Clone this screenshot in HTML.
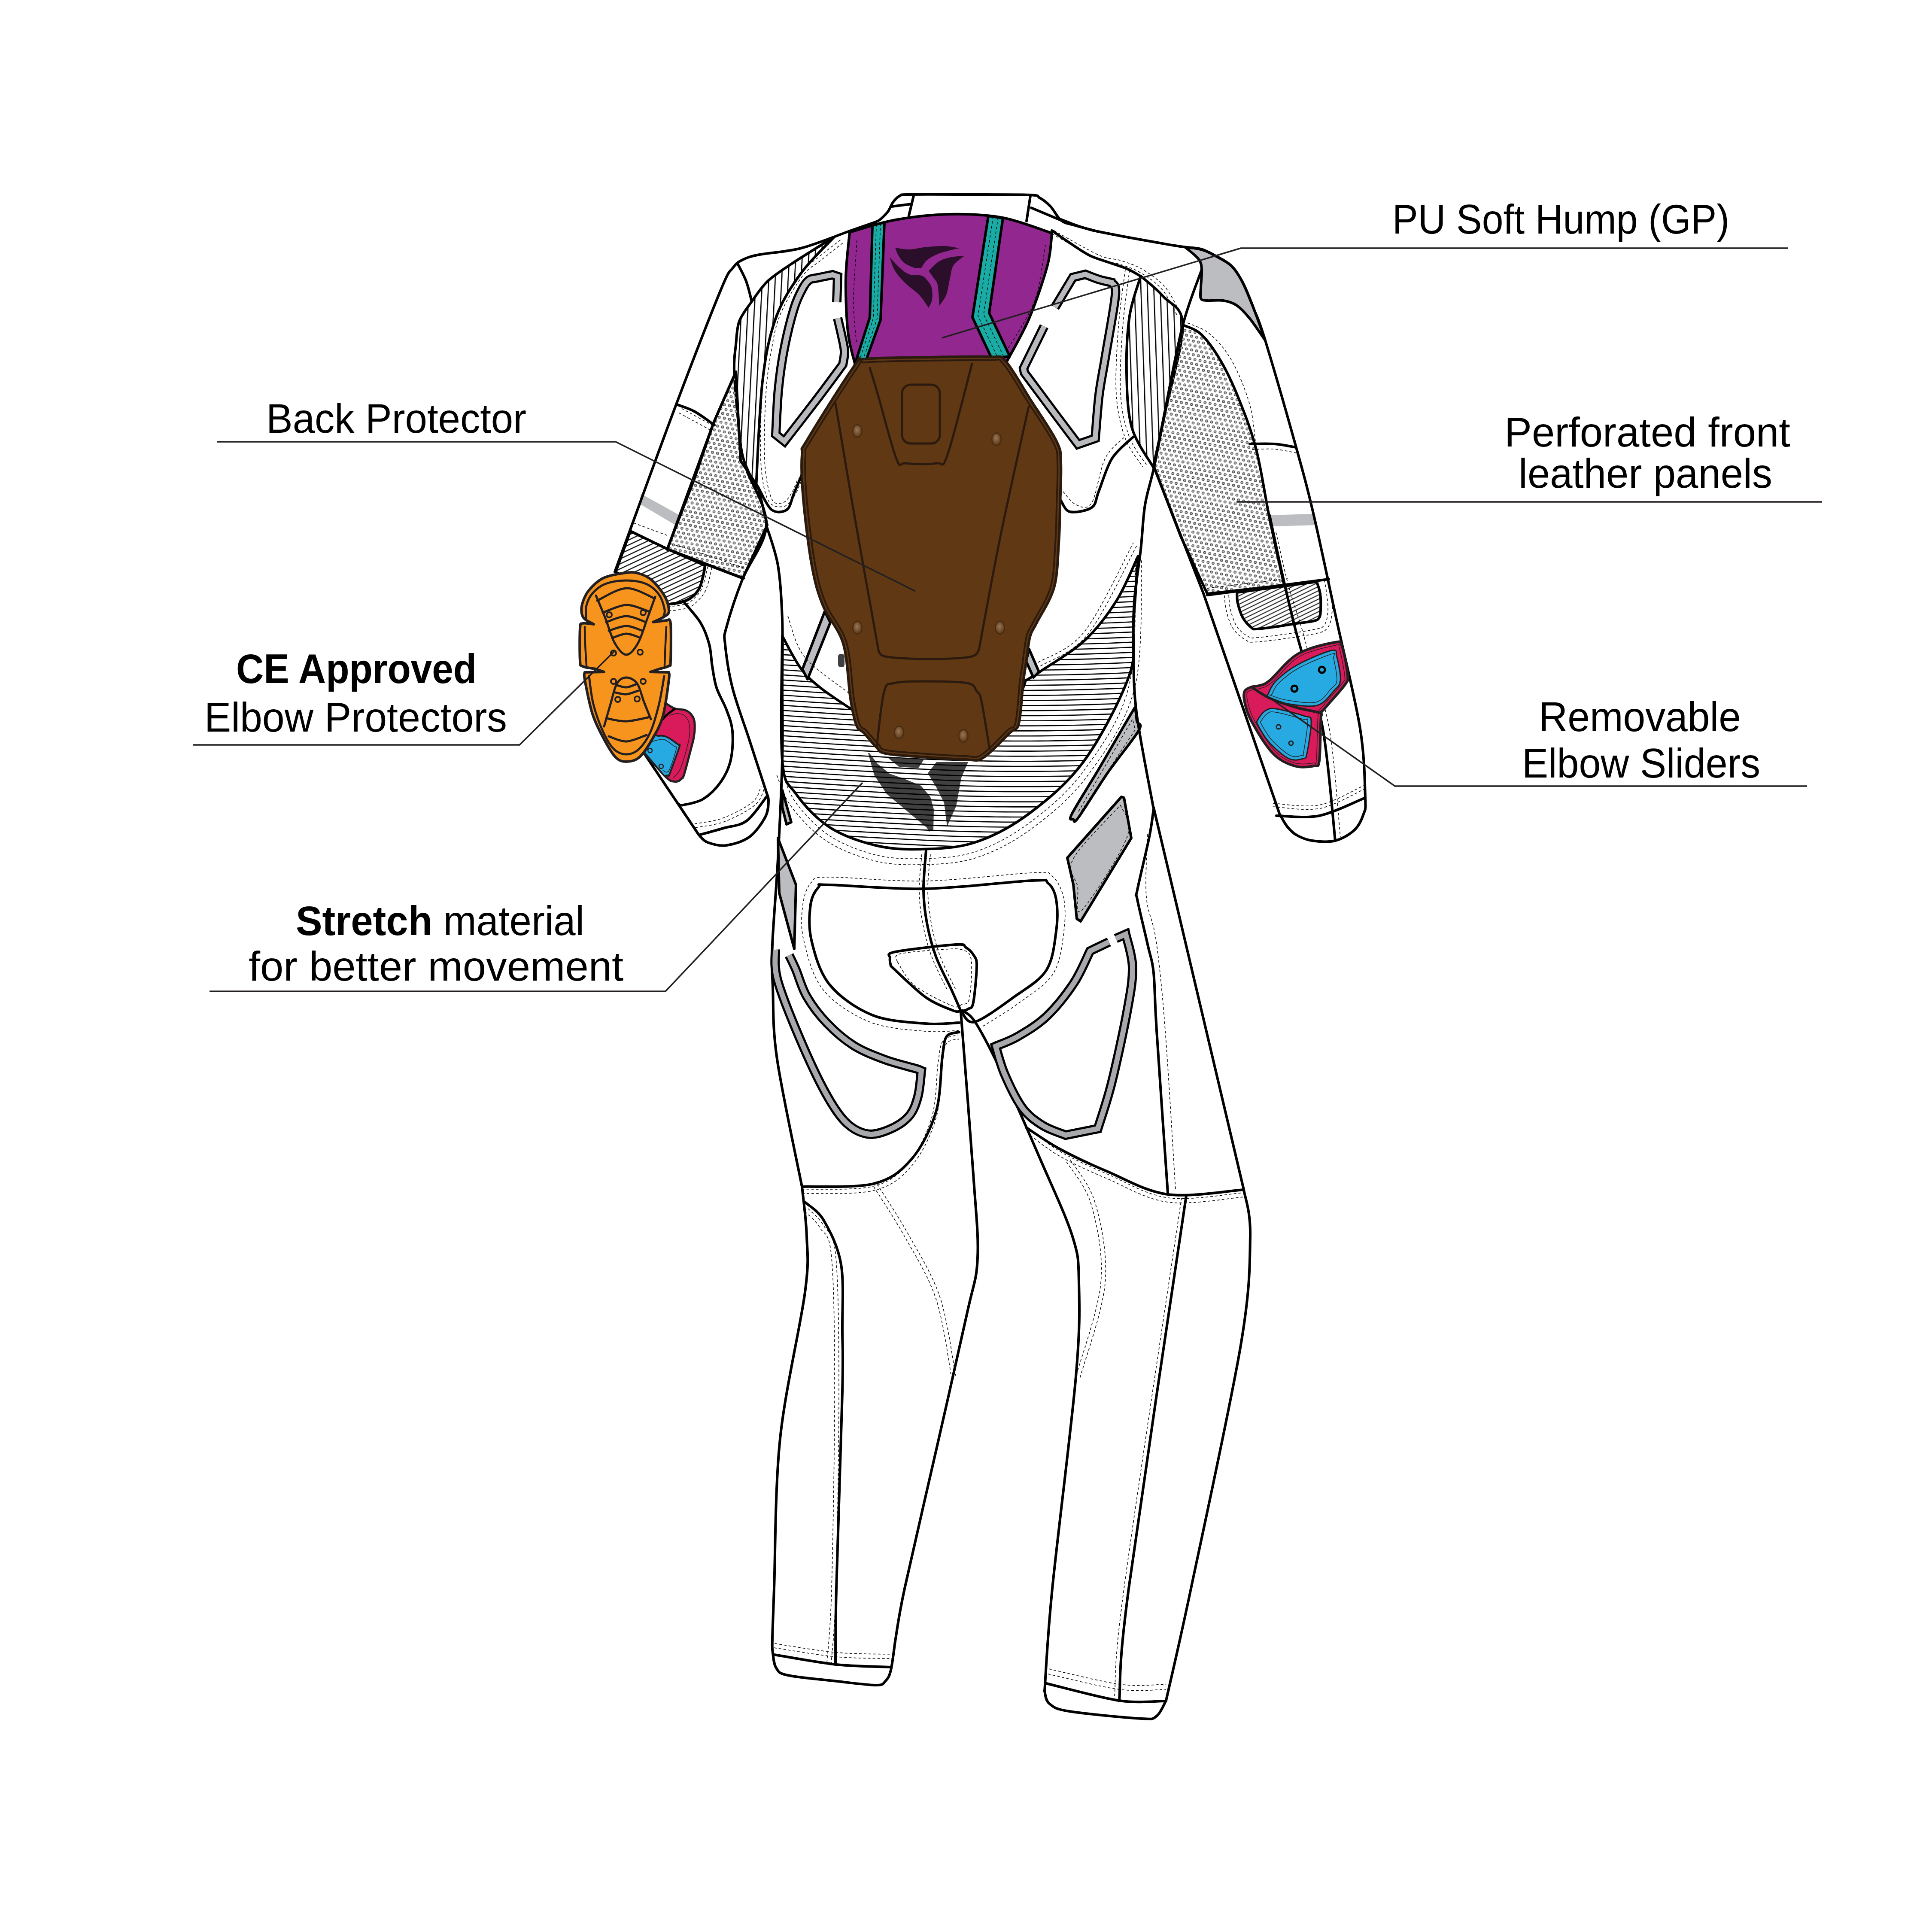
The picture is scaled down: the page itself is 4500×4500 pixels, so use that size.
<!DOCTYPE html>
<html><head><meta charset="utf-8"><style>
html,body{margin:0;padding:0;background:#fff;}
svg{display:block;font-family:"Liberation Sans",sans-serif;}
</style></head><body>
<svg width="4500" height="4500" viewBox="0 0 4500 4500">
<defs>
<pattern id="vh" patternUnits="userSpaceOnUse" width="15" height="15" patternTransform="rotate(3)"><rect width="15" height="15" fill="#fff"/><rect x="6" width="2.6" height="15" fill="#000"/></pattern><pattern id="vh2" patternUnits="userSpaceOnUse" width="15" height="15" patternTransform="rotate(-2)"><rect width="15" height="15" fill="#fff"/><rect x="6" width="2.6" height="15" fill="#000"/></pattern>
<pattern id="hh" patternUnits="userSpaceOnUse" width="11.6" height="11.6" patternTransform="rotate(2.7)"><rect y="4" width="11.6" height="2.6" fill="#000"/></pattern>
<pattern id="dh" patternUnits="userSpaceOnUse" width="10.5" height="10.5" patternTransform="rotate(-25)"><rect width="10.5" height="10.5" fill="#fff"/><rect y="4" width="10.5" height="2.3" fill="#000"/></pattern>
<pattern id="dh2" patternUnits="userSpaceOnUse" width="8.8" height="8.8" patternTransform="rotate(-26)"><rect width="8.8" height="8.8" fill="#fff"/><rect y="3.5" width="8.8" height="1.9" fill="#000"/></pattern>
<pattern id="pf" patternUnits="userSpaceOnUse" width="12" height="20.8" patternTransform="rotate(11)"><circle cx="0" cy="0" r="2.8" fill="#b8b8b8" stroke="#222" stroke-width="1"/><circle cx="12" cy="0" r="2.8" fill="#b8b8b8" stroke="#222" stroke-width="1"/><circle cx="6" cy="10.4" r="2.8" fill="#b8b8b8" stroke="#222" stroke-width="1"/><circle cx="0" cy="20.8" r="2.8" fill="#b8b8b8" stroke="#222" stroke-width="1"/><circle cx="12" cy="20.8" r="2.8" fill="#b8b8b8" stroke="#222" stroke-width="1"/></pattern>
<radialGradient id="rv" cx="0.45" cy="0.4" r="0.6"><stop offset="0" stop-color="#9a7656"/><stop offset="1" stop-color="#5e3d1c"/></radialGradient>
</defs>
<rect width="4500" height="4500" fill="#fff"/>
<path d="M1785.0,1224.0 C1789.5,1239.5 1805.8,1280.7 1812.0,1317.0 C1818.2,1353.3 1820.3,1394.8 1822.0,1442.0 C1823.7,1489.2 1822.0,1545.2 1822.0,1600.0 C1822.0,1654.8 1823.7,1704.3 1822.0,1771.0 C1820.3,1837.7 1815.8,1928.5 1812.0,2000.0 C1808.2,2071.5 1801.0,2150.0 1799.0,2200.0 C1797.0,2250.0 1798.2,2255.5 1800.0,2300.0 C1801.8,2344.5 1798.7,2389.7 1810.0,2467.0 C1821.3,2544.3 1858.3,2714.5 1868.0,2764.0" fill="none" stroke="#000" stroke-width="6" stroke-linejoin="round" stroke-linecap="round" />
<path d="M1868.0,2764.0 C1869.8,2783.3 1877.8,2839.0 1879.0,2880.0 C1880.2,2921.0 1885.3,2931.5 1875.0,3010.0 C1864.7,3088.5 1829.0,3236.0 1817.0,3351.0 C1805.0,3466.0 1806.0,3622.5 1803.0,3700.0 C1800.0,3777.5 1799.5,3791.0 1799.0,3816.0 C1798.5,3841.0 1798.5,3838.5 1800.0,3850.0 C1801.5,3861.5 1802.2,3876.3 1808.0,3885.0 C1813.8,3893.7 1811.3,3896.8 1835.0,3902.0 C1858.7,3907.2 1915.8,3912.2 1950.0,3916.0 C1984.2,3919.8 2021.3,3925.0 2040.0,3925.0 C2058.7,3925.0 2056.2,3921.8 2062.0,3916.0 C2067.8,3910.2 2071.2,3905.5 2075.0,3890.0 C2078.8,3874.5 2083.3,3834.2 2085.0,3823.0" fill="none" stroke="#000" stroke-width="6" stroke-linejoin="round" stroke-linecap="round" />
<path d="M2238.0,2358.0 C2242.8,2420.8 2260.5,2639.7 2267.0,2735.0 C2273.5,2830.3 2279.5,2875.7 2277.0,2930.0 C2274.5,2984.3 2268.2,2986.0 2252.0,3061.0 C2235.8,3136.0 2204.2,3273.5 2180.0,3380.0 C2155.8,3486.5 2122.8,3626.2 2107.0,3700.0 C2091.2,3773.8 2088.7,3802.5 2085.0,3823.0" fill="none" stroke="#000" stroke-width="6" stroke-linejoin="round" stroke-linecap="round" />
<path d="M1803.0,3854.0 C1827.2,3857.8 1902.7,3872.2 1948.0,3877.0 C1993.3,3881.8 2053.8,3882.0 2075.0,3883.0" fill="none" stroke="#000" stroke-width="6" stroke-linejoin="round" stroke-linecap="round" />
<path d="M1875.0,2800.0 C1882.3,2807.2 1905.0,2818.8 1919.0,2843.0 C1933.0,2867.2 1951.8,2902.2 1959.0,2945.0 C1966.2,2987.8 1961.5,3050.5 1962.0,3100.0 C1962.5,3149.5 1964.3,3142.0 1962.0,3242.0 C1959.7,3342.0 1950.7,3594.2 1948.0,3700.0 C1945.3,3805.8 1946.3,3847.5 1946.0,3877.0" fill="none" stroke="#000" stroke-width="6" stroke-linejoin="round" stroke-linecap="round" />
<path d="M2242.0,2354.0 C2247.2,2358.8 2257.5,2358.3 2273.0,2383.0 C2288.5,2407.7 2310.0,2449.2 2335.0,2502.0 C2360.0,2554.8 2395.8,2637.0 2423.0,2700.0 C2450.2,2763.0 2483.0,2832.0 2498.0,2880.0 C2513.0,2928.0 2511.7,2933.7 2513.0,2988.0 C2514.3,3042.3 2516.3,3087.3 2506.0,3206.0 C2495.7,3324.7 2463.2,3577.8 2451.0,3700.0 C2438.8,3822.2 2436.0,3899.2 2433.0,3939.0" fill="none" stroke="#000" stroke-width="6" stroke-linejoin="round" stroke-linecap="round" />
<path d="M2433.0,3939.0 C2434.8,3943.8 2434.3,3960.2 2444.0,3968.0 C2453.7,3975.8 2455.3,3980.2 2491.0,3986.0 C2526.7,3991.8 2624.2,4001.2 2658.0,4003.0 C2691.8,4004.8 2684.3,4004.0 2694.0,3997.0 C2703.7,3990.0 2712.3,3967.0 2716.0,3961.0" fill="none" stroke="#000" stroke-width="6" stroke-linejoin="round" stroke-linecap="round" />
<path d="M2687.0,1881.0 L2897.0,2771.0L2897.0,2771.0 C2899.5,2789.2 2913.2,2819.7 2912.0,2880.0 C2910.8,2940.3 2913.0,2996.3 2890.0,3133.0 C2867.0,3269.7 2803.0,3562.0 2774.0,3700.0 C2745.0,3838.0 2725.7,3917.5 2716.0,3961.0" fill="none" stroke="#000" stroke-width="6" stroke-linejoin="round" stroke-linecap="round" />
<path d="M2437.0,3921.0 C2465.3,3927.7 2561.2,3954.2 2607.0,3961.0 C2652.8,3967.8 2694.5,3961.8 2712.0,3962.0" fill="none" stroke="#000" stroke-width="6" stroke-linejoin="round" stroke-linecap="round" />
<path d="M2763.0,2785.0 C2740.7,2937.5 2655.0,3504.0 2629.0,3700.0 C2603.0,3896.0 2610.7,3917.5 2607.0,3961.0" fill="none" stroke="#000" stroke-width="6" stroke-linejoin="round" stroke-linecap="round" />
<path d="M1868.0,2764.0 C1895.8,2762.8 1992.5,2767.7 2035.0,2757.0 C2077.5,2746.3 2098.8,2727.8 2123.0,2700.0 C2147.2,2672.2 2168.0,2629.8 2180.0,2590.0 C2192.0,2550.2 2190.8,2490.3 2195.0,2461.0 C2199.2,2431.7 2198.5,2423.5 2205.0,2414.0 C2211.5,2404.5 2229.2,2405.7 2234.0,2404.0" fill="none" stroke="#000" stroke-width="6" stroke-linejoin="round" stroke-linecap="round" />
<path d="M2390.0,2626.0 C2403.3,2634.5 2438.7,2660.0 2470.0,2677.0 C2501.3,2694.0 2536.3,2710.5 2578.0,2728.0 C2619.7,2745.5 2666.8,2774.8 2720.0,2782.0 C2773.2,2789.2 2867.5,2772.8 2897.0,2771.0" fill="none" stroke="#000" stroke-width="6" stroke-linejoin="round" stroke-linecap="round" />
<path d="M2687.0,1884.0 C2685.3,1894.8 2683.3,1917.5 2677.0,1949.0 C2670.7,1980.5 2653.7,2048.7 2649.0,2073.0 C2644.3,2097.3 2644.8,2073.2 2649.0,2095.0 C2653.2,2116.8 2667.7,2175.5 2674.0,2204.0 C2680.3,2232.5 2683.7,2233.3 2687.0,2266.0 C2690.3,2298.7 2688.5,2314.7 2694.0,2400.0 C2699.5,2485.3 2715.7,2715.0 2720.0,2778.0" fill="none" stroke="#000" stroke-width="6" stroke-linejoin="round" stroke-linecap="round" />
<path d="M1751.0,702.0 C1757.2,694.2 1772.2,669.8 1788.0,655.0 C1803.8,640.2 1820.2,630.2 1846.0,613.0 C1871.8,595.8 1926.8,562.2 1943.0,552.0L1943.0,552.0 C1930.2,566.0 1888.7,604.5 1866.0,636.0 C1843.3,667.5 1822.0,699.0 1807.0,741.0 C1792.0,783.0 1783.7,822.2 1776.0,888.0 C1768.3,953.8 1763.5,1094.7 1761.0,1136.0L1761.0,1136.0 C1755.8,1123.8 1737.2,1091.3 1730.0,1063.0 C1722.8,1034.7 1721.3,999.7 1718.0,966.0 C1714.7,932.3 1710.7,888.2 1710.0,861.0 C1709.3,833.8 1712.0,821.8 1714.0,803.0 C1716.0,784.2 1715.8,764.8 1722.0,748.0 C1728.2,731.2 1746.2,709.7 1751.0,702.0Z" fill="url(#vh)" stroke="#000" stroke-width="6" stroke-linejoin="round" stroke-linecap="round" />
<path d="M2657.0,643.0 C2652.7,658.5 2636.5,698.8 2631.0,736.0 C2625.5,773.2 2623.2,822.8 2624.0,866.0 C2624.8,909.2 2625.7,958.0 2636.0,995.0 C2646.3,1032.0 2677.7,1072.5 2686.0,1088.0L2686.0,1088.0 C2690.7,1066.5 2702.5,1014.2 2714.0,959.0 C2725.5,903.8 2755.8,801.8 2755.0,757.0 C2754.2,712.2 2725.3,709.0 2709.0,690.0 C2692.7,671.0 2665.7,650.8 2657.0,643.0Z" fill="url(#vh2)" stroke="#000" stroke-width="6" stroke-linejoin="round" stroke-linecap="round" />
<path d="M1714.0,866.0 L1725.0,1073.0 L1766.0,1135.0 L1787.0,1223.0 L1730.0,1347.0 L1554.0,1280.0 L1616.0,1119.0 L1662.0,985.0Z" fill="url(#pf)" stroke="#000" stroke-width="6" stroke-linejoin="round" stroke-linecap="round" />
<path d="M2755.0,757.0 C2762.0,760.5 2782.3,764.2 2797.0,778.0 C2811.7,791.8 2828.3,815.0 2843.0,840.0 C2857.7,865.0 2871.2,893.5 2885.0,928.0 C2898.8,962.5 2914.0,1000.5 2926.0,1047.0 C2938.0,1093.5 2946.2,1154.3 2957.0,1207.0 C2967.8,1259.7 2985.3,1337.0 2991.0,1363.0L2991.0,1363.0 L2812.0,1383.0 L2750.0,1249.0 L2688.0,1088.0 L2714.0,959.0 L2755.0,757.0" fill="url(#pf)" stroke="#000" stroke-width="6" stroke-linejoin="round" stroke-linecap="round" />
<path d="M1468.0,1237.0 L1555.0,1279.0 L1642.0,1317.0L1642.0,1317.0 C1641.5,1320.2 1641.2,1327.2 1639.0,1336.0 C1636.8,1344.8 1633.8,1360.7 1629.0,1370.0 C1624.2,1379.3 1617.2,1386.5 1610.0,1392.0 C1602.8,1397.5 1594.7,1400.5 1586.0,1403.0 C1577.3,1405.5 1562.7,1406.3 1558.0,1407.0L1558.0,1407.0 L1434.0,1332.0Z" fill="url(#dh)" stroke="#000" stroke-width="6" stroke-linejoin="round" stroke-linecap="round" />
<path d="M3067.0,1355.0 L2881.0,1380.0L2881.0,1380.0 C2881.3,1384.2 2880.7,1395.2 2883.0,1405.0 C2885.3,1414.8 2889.7,1429.5 2895.0,1439.0 C2900.3,1448.5 2909.7,1457.7 2915.0,1462.0 C2920.3,1466.3 2917.8,1465.3 2927.0,1465.0 C2936.2,1464.7 2955.5,1462.0 2970.0,1460.0 C2984.5,1458.0 2999.5,1455.2 3014.0,1453.0 C3028.5,1450.8 3047.3,1449.2 3057.0,1447.0 C3066.7,1444.8 3068.8,1444.3 3072.0,1440.0 C3075.2,1435.7 3075.5,1430.5 3076.0,1421.0 C3076.5,1411.5 3076.5,1394.0 3075.0,1383.0 C3073.5,1372.0 3068.3,1359.7 3067.0,1355.0Z" fill="url(#dh2)" stroke="#000" stroke-width="6" stroke-linejoin="round" stroke-linecap="round" />
<path d="M2022.0,1754.0 L2036.0,1805.0 L2065.0,1849.0 L2116.0,1892.0 L2159.0,1928.0 L2164.0,1937.0 L2174.0,1933.0 L2175.0,1885.0 L2167.0,1856.0 L2145.0,1830.0 L2109.0,1815.0 L2072.0,1802.0 L2043.0,1778.0 L2025.0,1754.0Z" fill="#404040" stroke="none" stroke-width="0" stroke-linejoin="round" stroke-linecap="round" />
<path d="M2068.0,1765.0 L2152.0,1769.0 L2139.0,1789.0 L2094.0,1786.0Z" fill="#404040" stroke="none" stroke-width="0" stroke-linejoin="round" stroke-linecap="round" />
<path d="M2181.0,1775.0 L2255.0,1775.0 L2239.0,1812.0 L2227.0,1878.0 L2206.0,1925.0 L2199.0,1870.0 L2181.0,1834.0 L2161.0,1801.0Z" fill="#404040" stroke="none" stroke-width="0" stroke-linejoin="round" stroke-linecap="round" />
<clipPath id="hclip"><path d="M1822.0,1481.0 C1829.0,1493.3 1849.2,1534.8 1864.0,1555.0 C1878.8,1575.2 1889.3,1584.7 1911.0,1602.0 C1932.7,1619.3 1974.2,1646.0 1994.0,1659.0 C2013.8,1672.0 2024.0,1676.5 2030.0,1680.0L2030.0,1680.0 L2050.0,1720.0 L2300.0,1740.0 L2340.0,1700.0 L2370.0,1640.0 L2389.0,1585.0L2389.0,1585.0 C2394.7,1581.5 2400.2,1579.5 2423.0,1564.0 C2445.8,1548.5 2496.5,1519.3 2526.0,1492.0 C2555.5,1464.7 2579.2,1432.8 2600.0,1400.0 C2620.8,1367.2 2642.5,1312.5 2651.0,1295.0L2651.0,1295.0 C2649.2,1320.8 2643.5,1403.5 2640.0,1450.0 C2636.5,1496.5 2649.0,1520.5 2630.0,1574.0 C2611.0,1627.5 2564.8,1717.5 2526.0,1771.0 C2487.2,1824.5 2440.0,1863.0 2397.0,1895.0 C2354.0,1927.0 2311.2,1949.2 2268.0,1963.0 C2224.8,1976.8 2176.8,1977.2 2138.0,1978.0 C2099.2,1978.8 2069.5,1976.7 2035.0,1968.0 C2000.5,1959.3 1961.2,1945.8 1931.0,1926.0 C1900.8,1906.2 1872.2,1874.8 1854.0,1849.0 C1835.8,1823.2 1827.3,1832.3 1822.0,1771.0 C1816.7,1709.7 1822.0,1529.3 1822.0,1481.0"/></clipPath>
<g clip-path="url(#hclip)"><path d="M1800.0,1240.0 L1820.0,1241.4 L1840.0,1242.7 L1860.0,1244.1 L1880.0,1245.4 L1900.0,1246.7 L1920.0,1247.9 L1940.0,1249.2 L1960.0,1250.4 L1980.0,1251.6 L2000.0,1252.7 L2020.0,1253.8 L2040.0,1254.9 L2060.0,1256.0 L2080.0,1257.1 L2100.0,1258.1 L2120.0,1259.1 L2140.0,1260.1 L2160.0,1261.0 L2180.0,1261.8 L2200.0,1262.6 L2220.0,1263.3 L2240.0,1263.9 L2260.0,1264.4 L2280.0,1264.8 L2300.0,1265.2 L2320.0,1265.5 L2340.0,1265.7 L2360.0,1265.8 L2380.0,1265.8 L2400.0,1265.8 L2420.0,1265.7 L2440.0,1265.5 L2460.0,1265.2 L2480.0,1264.9 L2500.0,1264.5 L2520.0,1264.0 L2540.0,1263.5 L2560.0,1262.8 L2580.0,1262.2 L2600.0,1261.4 L2620.0,1260.5 L2640.0,1259.6 L2660.0,1258.6 L2680.0,1257.6 M1800.0,1251.8 L1820.0,1253.2 L1840.0,1254.5 L1860.0,1255.9 L1880.0,1257.2 L1900.0,1258.5 L1920.0,1259.7 L1940.0,1261.0 L1960.0,1262.2 L1980.0,1263.4 L2000.0,1264.5 L2020.0,1265.6 L2040.0,1266.7 L2060.0,1267.8 L2080.0,1268.9 L2100.0,1269.9 L2120.0,1270.9 L2140.0,1271.9 L2160.0,1272.8 L2180.0,1273.6 L2200.0,1274.4 L2220.0,1275.1 L2240.0,1275.7 L2260.0,1276.2 L2280.0,1276.6 L2300.0,1277.0 L2320.0,1277.3 L2340.0,1277.5 L2360.0,1277.6 L2380.0,1277.6 L2400.0,1277.6 L2420.0,1277.5 L2440.0,1277.3 L2460.0,1277.0 L2480.0,1276.7 L2500.0,1276.3 L2520.0,1275.8 L2540.0,1275.3 L2560.0,1274.6 L2580.0,1274.0 L2600.0,1273.2 L2620.0,1272.3 L2640.0,1271.4 L2660.0,1270.4 L2680.0,1269.4 M1800.0,1263.6 L1820.0,1265.0 L1840.0,1266.3 L1860.0,1267.7 L1880.0,1269.0 L1900.0,1270.3 L1920.0,1271.5 L1940.0,1272.8 L1960.0,1274.0 L1980.0,1275.2 L2000.0,1276.3 L2020.0,1277.4 L2040.0,1278.5 L2060.0,1279.6 L2080.0,1280.7 L2100.0,1281.7 L2120.0,1282.7 L2140.0,1283.7 L2160.0,1284.6 L2180.0,1285.4 L2200.0,1286.2 L2220.0,1286.9 L2240.0,1287.5 L2260.0,1288.0 L2280.0,1288.4 L2300.0,1288.8 L2320.0,1289.1 L2340.0,1289.3 L2360.0,1289.4 L2380.0,1289.4 L2400.0,1289.4 L2420.0,1289.3 L2440.0,1289.1 L2460.0,1288.8 L2480.0,1288.5 L2500.0,1288.1 L2520.0,1287.6 L2540.0,1287.1 L2560.0,1286.4 L2580.0,1285.8 L2600.0,1285.0 L2620.0,1284.1 L2640.0,1283.2 L2660.0,1282.2 L2680.0,1281.2 M1800.0,1275.4 L1820.0,1276.8 L1840.0,1278.1 L1860.0,1279.5 L1880.0,1280.8 L1900.0,1282.1 L1920.0,1283.3 L1940.0,1284.6 L1960.0,1285.8 L1980.0,1287.0 L2000.0,1288.1 L2020.0,1289.2 L2040.0,1290.3 L2060.0,1291.4 L2080.0,1292.5 L2100.0,1293.5 L2120.0,1294.5 L2140.0,1295.5 L2160.0,1296.4 L2180.0,1297.2 L2200.0,1298.0 L2220.0,1298.7 L2240.0,1299.3 L2260.0,1299.8 L2280.0,1300.2 L2300.0,1300.6 L2320.0,1300.9 L2340.0,1301.1 L2360.0,1301.2 L2380.0,1301.2 L2400.0,1301.2 L2420.0,1301.1 L2440.0,1300.9 L2460.0,1300.6 L2480.0,1300.3 L2500.0,1299.9 L2520.0,1299.4 L2540.0,1298.9 L2560.0,1298.2 L2580.0,1297.6 L2600.0,1296.8 L2620.0,1295.9 L2640.0,1295.0 L2660.0,1294.0 L2680.0,1293.0 M1800.0,1287.2 L1820.0,1288.6 L1840.0,1289.9 L1860.0,1291.3 L1880.0,1292.6 L1900.0,1293.9 L1920.0,1295.1 L1940.0,1296.4 L1960.0,1297.6 L1980.0,1298.8 L2000.0,1299.9 L2020.0,1301.0 L2040.0,1302.1 L2060.0,1303.2 L2080.0,1304.3 L2100.0,1305.3 L2120.0,1306.3 L2140.0,1307.3 L2160.0,1308.2 L2180.0,1309.0 L2200.0,1309.8 L2220.0,1310.5 L2240.0,1311.1 L2260.0,1311.6 L2280.0,1312.0 L2300.0,1312.4 L2320.0,1312.7 L2340.0,1312.9 L2360.0,1313.0 L2380.0,1313.0 L2400.0,1313.0 L2420.0,1312.9 L2440.0,1312.7 L2460.0,1312.4 L2480.0,1312.1 L2500.0,1311.7 L2520.0,1311.2 L2540.0,1310.7 L2560.0,1310.0 L2580.0,1309.4 L2600.0,1308.6 L2620.0,1307.7 L2640.0,1306.8 L2660.0,1305.8 L2680.0,1304.8 M1800.0,1299.0 L1820.0,1300.4 L1840.0,1301.7 L1860.0,1303.1 L1880.0,1304.4 L1900.0,1305.7 L1920.0,1306.9 L1940.0,1308.2 L1960.0,1309.4 L1980.0,1310.6 L2000.0,1311.7 L2020.0,1312.8 L2040.0,1313.9 L2060.0,1315.0 L2080.0,1316.1 L2100.0,1317.1 L2120.0,1318.1 L2140.0,1319.1 L2160.0,1320.0 L2180.0,1320.8 L2200.0,1321.6 L2220.0,1322.3 L2240.0,1322.9 L2260.0,1323.4 L2280.0,1323.8 L2300.0,1324.2 L2320.0,1324.5 L2340.0,1324.7 L2360.0,1324.8 L2380.0,1324.8 L2400.0,1324.8 L2420.0,1324.7 L2440.0,1324.5 L2460.0,1324.2 L2480.0,1323.9 L2500.0,1323.5 L2520.0,1323.0 L2540.0,1322.5 L2560.0,1321.8 L2580.0,1321.2 L2600.0,1320.4 L2620.0,1319.5 L2640.0,1318.6 L2660.0,1317.6 L2680.0,1316.6 M1800.0,1310.8 L1820.0,1312.2 L1840.0,1313.5 L1860.0,1314.9 L1880.0,1316.2 L1900.0,1317.5 L1920.0,1318.7 L1940.0,1320.0 L1960.0,1321.2 L1980.0,1322.4 L2000.0,1323.5 L2020.0,1324.6 L2040.0,1325.7 L2060.0,1326.8 L2080.0,1327.9 L2100.0,1328.9 L2120.0,1329.9 L2140.0,1330.9 L2160.0,1331.8 L2180.0,1332.6 L2200.0,1333.4 L2220.0,1334.1 L2240.0,1334.7 L2260.0,1335.2 L2280.0,1335.6 L2300.0,1336.0 L2320.0,1336.3 L2340.0,1336.5 L2360.0,1336.6 L2380.0,1336.6 L2400.0,1336.6 L2420.0,1336.5 L2440.0,1336.3 L2460.0,1336.0 L2480.0,1335.7 L2500.0,1335.3 L2520.0,1334.8 L2540.0,1334.3 L2560.0,1333.6 L2580.0,1333.0 L2600.0,1332.2 L2620.0,1331.3 L2640.0,1330.4 L2660.0,1329.4 L2680.0,1328.4 M1800.0,1322.6 L1820.0,1324.0 L1840.0,1325.3 L1860.0,1326.7 L1880.0,1328.0 L1900.0,1329.3 L1920.0,1330.5 L1940.0,1331.8 L1960.0,1333.0 L1980.0,1334.2 L2000.0,1335.3 L2020.0,1336.4 L2040.0,1337.5 L2060.0,1338.6 L2080.0,1339.7 L2100.0,1340.7 L2120.0,1341.7 L2140.0,1342.7 L2160.0,1343.6 L2180.0,1344.4 L2200.0,1345.2 L2220.0,1345.9 L2240.0,1346.5 L2260.0,1347.0 L2280.0,1347.4 L2300.0,1347.8 L2320.0,1348.1 L2340.0,1348.3 L2360.0,1348.4 L2380.0,1348.4 L2400.0,1348.4 L2420.0,1348.3 L2440.0,1348.1 L2460.0,1347.8 L2480.0,1347.5 L2500.0,1347.1 L2520.0,1346.6 L2540.0,1346.1 L2560.0,1345.4 L2580.0,1344.8 L2600.0,1344.0 L2620.0,1343.1 L2640.0,1342.2 L2660.0,1341.2 L2680.0,1340.2 M1800.0,1334.4 L1820.0,1335.8 L1840.0,1337.1 L1860.0,1338.5 L1880.0,1339.8 L1900.0,1341.1 L1920.0,1342.3 L1940.0,1343.6 L1960.0,1344.8 L1980.0,1346.0 L2000.0,1347.1 L2020.0,1348.2 L2040.0,1349.3 L2060.0,1350.4 L2080.0,1351.5 L2100.0,1352.5 L2120.0,1353.5 L2140.0,1354.5 L2160.0,1355.4 L2180.0,1356.2 L2200.0,1357.0 L2220.0,1357.7 L2240.0,1358.3 L2260.0,1358.8 L2280.0,1359.2 L2300.0,1359.6 L2320.0,1359.9 L2340.0,1360.1 L2360.0,1360.2 L2380.0,1360.2 L2400.0,1360.2 L2420.0,1360.1 L2440.0,1359.9 L2460.0,1359.6 L2480.0,1359.3 L2500.0,1358.9 L2520.0,1358.4 L2540.0,1357.9 L2560.0,1357.2 L2580.0,1356.6 L2600.0,1355.8 L2620.0,1354.9 L2640.0,1354.0 L2660.0,1353.0 L2680.0,1352.0 M1800.0,1346.2 L1820.0,1347.6 L1840.0,1348.9 L1860.0,1350.3 L1880.0,1351.6 L1900.0,1352.9 L1920.0,1354.1 L1940.0,1355.4 L1960.0,1356.6 L1980.0,1357.8 L2000.0,1358.9 L2020.0,1360.0 L2040.0,1361.1 L2060.0,1362.2 L2080.0,1363.3 L2100.0,1364.3 L2120.0,1365.3 L2140.0,1366.3 L2160.0,1367.2 L2180.0,1368.0 L2200.0,1368.8 L2220.0,1369.5 L2240.0,1370.1 L2260.0,1370.6 L2280.0,1371.0 L2300.0,1371.4 L2320.0,1371.7 L2340.0,1371.9 L2360.0,1372.0 L2380.0,1372.0 L2400.0,1372.0 L2420.0,1371.9 L2440.0,1371.7 L2460.0,1371.4 L2480.0,1371.1 L2500.0,1370.7 L2520.0,1370.2 L2540.0,1369.7 L2560.0,1369.0 L2580.0,1368.4 L2600.0,1367.6 L2620.0,1366.7 L2640.0,1365.8 L2660.0,1364.8 L2680.0,1363.8 M1800.0,1358.0 L1820.0,1359.4 L1840.0,1360.7 L1860.0,1362.1 L1880.0,1363.4 L1900.0,1364.7 L1920.0,1365.9 L1940.0,1367.2 L1960.0,1368.4 L1980.0,1369.6 L2000.0,1370.7 L2020.0,1371.8 L2040.0,1372.9 L2060.0,1374.0 L2080.0,1375.1 L2100.0,1376.1 L2120.0,1377.1 L2140.0,1378.1 L2160.0,1379.0 L2180.0,1379.8 L2200.0,1380.6 L2220.0,1381.3 L2240.0,1381.9 L2260.0,1382.4 L2280.0,1382.8 L2300.0,1383.2 L2320.0,1383.5 L2340.0,1383.7 L2360.0,1383.8 L2380.0,1383.8 L2400.0,1383.8 L2420.0,1383.7 L2440.0,1383.5 L2460.0,1383.2 L2480.0,1382.9 L2500.0,1382.5 L2520.0,1382.0 L2540.0,1381.5 L2560.0,1380.8 L2580.0,1380.2 L2600.0,1379.4 L2620.0,1378.5 L2640.0,1377.6 L2660.0,1376.6 L2680.0,1375.6 M1800.0,1369.8 L1820.0,1371.2 L1840.0,1372.5 L1860.0,1373.9 L1880.0,1375.2 L1900.0,1376.5 L1920.0,1377.7 L1940.0,1379.0 L1960.0,1380.2 L1980.0,1381.4 L2000.0,1382.5 L2020.0,1383.6 L2040.0,1384.7 L2060.0,1385.8 L2080.0,1386.9 L2100.0,1387.9 L2120.0,1388.9 L2140.0,1389.9 L2160.0,1390.8 L2180.0,1391.6 L2200.0,1392.4 L2220.0,1393.1 L2240.0,1393.7 L2260.0,1394.2 L2280.0,1394.6 L2300.0,1395.0 L2320.0,1395.3 L2340.0,1395.5 L2360.0,1395.6 L2380.0,1395.6 L2400.0,1395.6 L2420.0,1395.5 L2440.0,1395.3 L2460.0,1395.0 L2480.0,1394.7 L2500.0,1394.3 L2520.0,1393.8 L2540.0,1393.3 L2560.0,1392.6 L2580.0,1392.0 L2600.0,1391.2 L2620.0,1390.3 L2640.0,1389.4 L2660.0,1388.4 L2680.0,1387.4 M1800.0,1381.6 L1820.0,1383.0 L1840.0,1384.3 L1860.0,1385.7 L1880.0,1387.0 L1900.0,1388.3 L1920.0,1389.5 L1940.0,1390.8 L1960.0,1392.0 L1980.0,1393.2 L2000.0,1394.3 L2020.0,1395.4 L2040.0,1396.5 L2060.0,1397.6 L2080.0,1398.7 L2100.0,1399.7 L2120.0,1400.7 L2140.0,1401.7 L2160.0,1402.6 L2180.0,1403.4 L2200.0,1404.2 L2220.0,1404.9 L2240.0,1405.5 L2260.0,1406.0 L2280.0,1406.4 L2300.0,1406.8 L2320.0,1407.1 L2340.0,1407.3 L2360.0,1407.4 L2380.0,1407.4 L2400.0,1407.4 L2420.0,1407.3 L2440.0,1407.1 L2460.0,1406.8 L2480.0,1406.5 L2500.0,1406.1 L2520.0,1405.6 L2540.0,1405.1 L2560.0,1404.4 L2580.0,1403.8 L2600.0,1403.0 L2620.0,1402.1 L2640.0,1401.2 L2660.0,1400.2 L2680.0,1399.2 M1800.0,1393.4 L1820.0,1394.8 L1840.0,1396.1 L1860.0,1397.5 L1880.0,1398.8 L1900.0,1400.1 L1920.0,1401.3 L1940.0,1402.6 L1960.0,1403.8 L1980.0,1405.0 L2000.0,1406.1 L2020.0,1407.2 L2040.0,1408.3 L2060.0,1409.4 L2080.0,1410.5 L2100.0,1411.5 L2120.0,1412.5 L2140.0,1413.5 L2160.0,1414.4 L2180.0,1415.2 L2200.0,1416.0 L2220.0,1416.7 L2240.0,1417.3 L2260.0,1417.8 L2280.0,1418.2 L2300.0,1418.6 L2320.0,1418.9 L2340.0,1419.1 L2360.0,1419.2 L2380.0,1419.2 L2400.0,1419.2 L2420.0,1419.1 L2440.0,1418.9 L2460.0,1418.6 L2480.0,1418.3 L2500.0,1417.9 L2520.0,1417.4 L2540.0,1416.9 L2560.0,1416.2 L2580.0,1415.6 L2600.0,1414.8 L2620.0,1413.9 L2640.0,1413.0 L2660.0,1412.0 L2680.0,1411.0 M1800.0,1405.2 L1820.0,1406.6 L1840.0,1407.9 L1860.0,1409.3 L1880.0,1410.6 L1900.0,1411.9 L1920.0,1413.1 L1940.0,1414.4 L1960.0,1415.6 L1980.0,1416.8 L2000.0,1417.9 L2020.0,1419.0 L2040.0,1420.1 L2060.0,1421.2 L2080.0,1422.3 L2100.0,1423.3 L2120.0,1424.3 L2140.0,1425.3 L2160.0,1426.2 L2180.0,1427.0 L2200.0,1427.8 L2220.0,1428.5 L2240.0,1429.1 L2260.0,1429.6 L2280.0,1430.0 L2300.0,1430.4 L2320.0,1430.7 L2340.0,1430.9 L2360.0,1431.0 L2380.0,1431.0 L2400.0,1431.0 L2420.0,1430.9 L2440.0,1430.7 L2460.0,1430.4 L2480.0,1430.1 L2500.0,1429.7 L2520.0,1429.2 L2540.0,1428.7 L2560.0,1428.0 L2580.0,1427.4 L2600.0,1426.6 L2620.0,1425.7 L2640.0,1424.8 L2660.0,1423.8 L2680.0,1422.8 M1800.0,1417.0 L1820.0,1418.4 L1840.0,1419.7 L1860.0,1421.1 L1880.0,1422.4 L1900.0,1423.7 L1920.0,1424.9 L1940.0,1426.2 L1960.0,1427.4 L1980.0,1428.6 L2000.0,1429.7 L2020.0,1430.8 L2040.0,1431.9 L2060.0,1433.0 L2080.0,1434.1 L2100.0,1435.1 L2120.0,1436.1 L2140.0,1437.1 L2160.0,1438.0 L2180.0,1438.8 L2200.0,1439.6 L2220.0,1440.3 L2240.0,1440.9 L2260.0,1441.4 L2280.0,1441.8 L2300.0,1442.2 L2320.0,1442.5 L2340.0,1442.7 L2360.0,1442.8 L2380.0,1442.8 L2400.0,1442.8 L2420.0,1442.7 L2440.0,1442.5 L2460.0,1442.2 L2480.0,1441.9 L2500.0,1441.5 L2520.0,1441.0 L2540.0,1440.5 L2560.0,1439.8 L2580.0,1439.2 L2600.0,1438.4 L2620.0,1437.5 L2640.0,1436.6 L2660.0,1435.6 L2680.0,1434.6 M1800.0,1428.8 L1820.0,1430.2 L1840.0,1431.5 L1860.0,1432.9 L1880.0,1434.2 L1900.0,1435.5 L1920.0,1436.7 L1940.0,1438.0 L1960.0,1439.2 L1980.0,1440.4 L2000.0,1441.5 L2020.0,1442.6 L2040.0,1443.7 L2060.0,1444.8 L2080.0,1445.9 L2100.0,1446.9 L2120.0,1447.9 L2140.0,1448.9 L2160.0,1449.8 L2180.0,1450.6 L2200.0,1451.4 L2220.0,1452.1 L2240.0,1452.7 L2260.0,1453.2 L2280.0,1453.6 L2300.0,1454.0 L2320.0,1454.3 L2340.0,1454.5 L2360.0,1454.6 L2380.0,1454.6 L2400.0,1454.6 L2420.0,1454.5 L2440.0,1454.3 L2460.0,1454.0 L2480.0,1453.7 L2500.0,1453.3 L2520.0,1452.8 L2540.0,1452.3 L2560.0,1451.6 L2580.0,1451.0 L2600.0,1450.2 L2620.0,1449.3 L2640.0,1448.4 L2660.0,1447.4 L2680.0,1446.4 M1800.0,1440.6 L1820.0,1442.0 L1840.0,1443.3 L1860.0,1444.7 L1880.0,1446.0 L1900.0,1447.3 L1920.0,1448.5 L1940.0,1449.8 L1960.0,1451.0 L1980.0,1452.2 L2000.0,1453.3 L2020.0,1454.4 L2040.0,1455.5 L2060.0,1456.6 L2080.0,1457.7 L2100.0,1458.7 L2120.0,1459.7 L2140.0,1460.7 L2160.0,1461.6 L2180.0,1462.4 L2200.0,1463.2 L2220.0,1463.9 L2240.0,1464.5 L2260.0,1465.0 L2280.0,1465.4 L2300.0,1465.8 L2320.0,1466.1 L2340.0,1466.3 L2360.0,1466.4 L2380.0,1466.4 L2400.0,1466.4 L2420.0,1466.3 L2440.0,1466.1 L2460.0,1465.8 L2480.0,1465.5 L2500.0,1465.1 L2520.0,1464.6 L2540.0,1464.1 L2560.0,1463.4 L2580.0,1462.8 L2600.0,1462.0 L2620.0,1461.1 L2640.0,1460.2 L2660.0,1459.2 L2680.0,1458.2 M1800.0,1452.4 L1820.0,1453.8 L1840.0,1455.1 L1860.0,1456.5 L1880.0,1457.8 L1900.0,1459.1 L1920.0,1460.3 L1940.0,1461.6 L1960.0,1462.8 L1980.0,1464.0 L2000.0,1465.1 L2020.0,1466.2 L2040.0,1467.3 L2060.0,1468.4 L2080.0,1469.5 L2100.0,1470.5 L2120.0,1471.5 L2140.0,1472.5 L2160.0,1473.4 L2180.0,1474.2 L2200.0,1475.0 L2220.0,1475.7 L2240.0,1476.3 L2260.0,1476.8 L2280.0,1477.2 L2300.0,1477.6 L2320.0,1477.9 L2340.0,1478.1 L2360.0,1478.2 L2380.0,1478.2 L2400.0,1478.2 L2420.0,1478.1 L2440.0,1477.9 L2460.0,1477.6 L2480.0,1477.3 L2500.0,1476.9 L2520.0,1476.4 L2540.0,1475.9 L2560.0,1475.2 L2580.0,1474.6 L2600.0,1473.8 L2620.0,1472.9 L2640.0,1472.0 L2660.0,1471.0 L2680.0,1470.0 M1800.0,1464.2 L1820.0,1465.6 L1840.0,1466.9 L1860.0,1468.3 L1880.0,1469.6 L1900.0,1470.9 L1920.0,1472.1 L1940.0,1473.4 L1960.0,1474.6 L1980.0,1475.8 L2000.0,1476.9 L2020.0,1478.0 L2040.0,1479.1 L2060.0,1480.2 L2080.0,1481.3 L2100.0,1482.3 L2120.0,1483.3 L2140.0,1484.3 L2160.0,1485.2 L2180.0,1486.0 L2200.0,1486.8 L2220.0,1487.5 L2240.0,1488.1 L2260.0,1488.6 L2280.0,1489.0 L2300.0,1489.4 L2320.0,1489.7 L2340.0,1489.9 L2360.0,1490.0 L2380.0,1490.0 L2400.0,1490.0 L2420.0,1489.9 L2440.0,1489.7 L2460.0,1489.4 L2480.0,1489.1 L2500.0,1488.7 L2520.0,1488.2 L2540.0,1487.7 L2560.0,1487.0 L2580.0,1486.4 L2600.0,1485.6 L2620.0,1484.7 L2640.0,1483.8 L2660.0,1482.8 L2680.0,1481.8 M1800.0,1476.0 L1820.0,1477.4 L1840.0,1478.7 L1860.0,1480.1 L1880.0,1481.4 L1900.0,1482.7 L1920.0,1483.9 L1940.0,1485.2 L1960.0,1486.4 L1980.0,1487.6 L2000.0,1488.7 L2020.0,1489.8 L2040.0,1490.9 L2060.0,1492.0 L2080.0,1493.1 L2100.0,1494.1 L2120.0,1495.1 L2140.0,1496.1 L2160.0,1497.0 L2180.0,1497.8 L2200.0,1498.6 L2220.0,1499.3 L2240.0,1499.9 L2260.0,1500.4 L2280.0,1500.8 L2300.0,1501.2 L2320.0,1501.5 L2340.0,1501.7 L2360.0,1501.8 L2380.0,1501.8 L2400.0,1501.8 L2420.0,1501.7 L2440.0,1501.5 L2460.0,1501.2 L2480.0,1500.9 L2500.0,1500.5 L2520.0,1500.0 L2540.0,1499.5 L2560.0,1498.8 L2580.0,1498.2 L2600.0,1497.4 L2620.0,1496.5 L2640.0,1495.6 L2660.0,1494.6 L2680.0,1493.6 M1800.0,1487.8 L1820.0,1489.2 L1840.0,1490.5 L1860.0,1491.9 L1880.0,1493.2 L1900.0,1494.5 L1920.0,1495.7 L1940.0,1497.0 L1960.0,1498.2 L1980.0,1499.4 L2000.0,1500.5 L2020.0,1501.6 L2040.0,1502.7 L2060.0,1503.8 L2080.0,1504.9 L2100.0,1505.9 L2120.0,1506.9 L2140.0,1507.9 L2160.0,1508.8 L2180.0,1509.6 L2200.0,1510.4 L2220.0,1511.1 L2240.0,1511.7 L2260.0,1512.2 L2280.0,1512.6 L2300.0,1513.0 L2320.0,1513.3 L2340.0,1513.5 L2360.0,1513.6 L2380.0,1513.6 L2400.0,1513.6 L2420.0,1513.5 L2440.0,1513.3 L2460.0,1513.0 L2480.0,1512.7 L2500.0,1512.3 L2520.0,1511.8 L2540.0,1511.3 L2560.0,1510.6 L2580.0,1510.0 L2600.0,1509.2 L2620.0,1508.3 L2640.0,1507.4 L2660.0,1506.4 L2680.0,1505.4 M1800.0,1499.6 L1820.0,1501.0 L1840.0,1502.3 L1860.0,1503.7 L1880.0,1505.0 L1900.0,1506.3 L1920.0,1507.5 L1940.0,1508.8 L1960.0,1510.0 L1980.0,1511.2 L2000.0,1512.3 L2020.0,1513.4 L2040.0,1514.5 L2060.0,1515.6 L2080.0,1516.7 L2100.0,1517.7 L2120.0,1518.7 L2140.0,1519.7 L2160.0,1520.6 L2180.0,1521.4 L2200.0,1522.2 L2220.0,1522.9 L2240.0,1523.5 L2260.0,1524.0 L2280.0,1524.4 L2300.0,1524.8 L2320.0,1525.1 L2340.0,1525.3 L2360.0,1525.4 L2380.0,1525.4 L2400.0,1525.4 L2420.0,1525.3 L2440.0,1525.1 L2460.0,1524.8 L2480.0,1524.5 L2500.0,1524.1 L2520.0,1523.6 L2540.0,1523.1 L2560.0,1522.4 L2580.0,1521.8 L2600.0,1521.0 L2620.0,1520.1 L2640.0,1519.2 L2660.0,1518.2 L2680.0,1517.2 M1800.0,1511.4 L1820.0,1512.8 L1840.0,1514.1 L1860.0,1515.5 L1880.0,1516.8 L1900.0,1518.1 L1920.0,1519.3 L1940.0,1520.6 L1960.0,1521.8 L1980.0,1523.0 L2000.0,1524.1 L2020.0,1525.2 L2040.0,1526.3 L2060.0,1527.4 L2080.0,1528.5 L2100.0,1529.5 L2120.0,1530.5 L2140.0,1531.5 L2160.0,1532.4 L2180.0,1533.2 L2200.0,1534.0 L2220.0,1534.7 L2240.0,1535.3 L2260.0,1535.8 L2280.0,1536.2 L2300.0,1536.6 L2320.0,1536.9 L2340.0,1537.1 L2360.0,1537.2 L2380.0,1537.2 L2400.0,1537.2 L2420.0,1537.1 L2440.0,1536.9 L2460.0,1536.6 L2480.0,1536.3 L2500.0,1535.9 L2520.0,1535.4 L2540.0,1534.9 L2560.0,1534.2 L2580.0,1533.6 L2600.0,1532.8 L2620.0,1531.9 L2640.0,1531.0 L2660.0,1530.0 L2680.0,1529.0 M1800.0,1523.2 L1820.0,1524.6 L1840.0,1525.9 L1860.0,1527.3 L1880.0,1528.6 L1900.0,1529.9 L1920.0,1531.1 L1940.0,1532.4 L1960.0,1533.6 L1980.0,1534.8 L2000.0,1535.9 L2020.0,1537.0 L2040.0,1538.1 L2060.0,1539.2 L2080.0,1540.3 L2100.0,1541.3 L2120.0,1542.3 L2140.0,1543.3 L2160.0,1544.2 L2180.0,1545.0 L2200.0,1545.8 L2220.0,1546.5 L2240.0,1547.1 L2260.0,1547.6 L2280.0,1548.0 L2300.0,1548.4 L2320.0,1548.7 L2340.0,1548.9 L2360.0,1549.0 L2380.0,1549.0 L2400.0,1549.0 L2420.0,1548.9 L2440.0,1548.7 L2460.0,1548.4 L2480.0,1548.1 L2500.0,1547.7 L2520.0,1547.2 L2540.0,1546.7 L2560.0,1546.0 L2580.0,1545.4 L2600.0,1544.6 L2620.0,1543.7 L2640.0,1542.8 L2660.0,1541.8 L2680.0,1540.8 M1800.0,1535.0 L1820.0,1536.4 L1840.0,1537.7 L1860.0,1539.1 L1880.0,1540.4 L1900.0,1541.7 L1920.0,1542.9 L1940.0,1544.2 L1960.0,1545.4 L1980.0,1546.6 L2000.0,1547.7 L2020.0,1548.8 L2040.0,1549.9 L2060.0,1551.0 L2080.0,1552.1 L2100.0,1553.1 L2120.0,1554.1 L2140.0,1555.1 L2160.0,1556.0 L2180.0,1556.8 L2200.0,1557.6 L2220.0,1558.3 L2240.0,1558.9 L2260.0,1559.4 L2280.0,1559.8 L2300.0,1560.2 L2320.0,1560.5 L2340.0,1560.7 L2360.0,1560.8 L2380.0,1560.8 L2400.0,1560.8 L2420.0,1560.7 L2440.0,1560.5 L2460.0,1560.2 L2480.0,1559.9 L2500.0,1559.5 L2520.0,1559.0 L2540.0,1558.5 L2560.0,1557.8 L2580.0,1557.2 L2600.0,1556.4 L2620.0,1555.5 L2640.0,1554.6 L2660.0,1553.6 L2680.0,1552.6 M1800.0,1546.8 L1820.0,1548.2 L1840.0,1549.5 L1860.0,1550.9 L1880.0,1552.2 L1900.0,1553.5 L1920.0,1554.7 L1940.0,1556.0 L1960.0,1557.2 L1980.0,1558.4 L2000.0,1559.5 L2020.0,1560.6 L2040.0,1561.7 L2060.0,1562.8 L2080.0,1563.9 L2100.0,1564.9 L2120.0,1565.9 L2140.0,1566.9 L2160.0,1567.8 L2180.0,1568.6 L2200.0,1569.4 L2220.0,1570.1 L2240.0,1570.7 L2260.0,1571.2 L2280.0,1571.6 L2300.0,1572.0 L2320.0,1572.3 L2340.0,1572.5 L2360.0,1572.6 L2380.0,1572.6 L2400.0,1572.6 L2420.0,1572.5 L2440.0,1572.3 L2460.0,1572.0 L2480.0,1571.7 L2500.0,1571.3 L2520.0,1570.8 L2540.0,1570.3 L2560.0,1569.6 L2580.0,1569.0 L2600.0,1568.2 L2620.0,1567.3 L2640.0,1566.4 L2660.0,1565.4 L2680.0,1564.4 M1800.0,1558.6 L1820.0,1560.0 L1840.0,1561.3 L1860.0,1562.7 L1880.0,1564.0 L1900.0,1565.3 L1920.0,1566.5 L1940.0,1567.8 L1960.0,1569.0 L1980.0,1570.2 L2000.0,1571.3 L2020.0,1572.4 L2040.0,1573.5 L2060.0,1574.6 L2080.0,1575.7 L2100.0,1576.7 L2120.0,1577.7 L2140.0,1578.7 L2160.0,1579.6 L2180.0,1580.4 L2200.0,1581.2 L2220.0,1581.9 L2240.0,1582.5 L2260.0,1583.0 L2280.0,1583.4 L2300.0,1583.8 L2320.0,1584.1 L2340.0,1584.3 L2360.0,1584.4 L2380.0,1584.4 L2400.0,1584.4 L2420.0,1584.3 L2440.0,1584.1 L2460.0,1583.8 L2480.0,1583.5 L2500.0,1583.1 L2520.0,1582.6 L2540.0,1582.1 L2560.0,1581.4 L2580.0,1580.8 L2600.0,1580.0 L2620.0,1579.1 L2640.0,1578.2 L2660.0,1577.2 L2680.0,1576.2 M1800.0,1570.4 L1820.0,1571.8 L1840.0,1573.1 L1860.0,1574.5 L1880.0,1575.8 L1900.0,1577.1 L1920.0,1578.3 L1940.0,1579.6 L1960.0,1580.8 L1980.0,1582.0 L2000.0,1583.1 L2020.0,1584.2 L2040.0,1585.3 L2060.0,1586.4 L2080.0,1587.5 L2100.0,1588.5 L2120.0,1589.5 L2140.0,1590.5 L2160.0,1591.4 L2180.0,1592.2 L2200.0,1593.0 L2220.0,1593.7 L2240.0,1594.3 L2260.0,1594.8 L2280.0,1595.2 L2300.0,1595.6 L2320.0,1595.9 L2340.0,1596.1 L2360.0,1596.2 L2380.0,1596.2 L2400.0,1596.2 L2420.0,1596.1 L2440.0,1595.9 L2460.0,1595.6 L2480.0,1595.3 L2500.0,1594.9 L2520.0,1594.4 L2540.0,1593.9 L2560.0,1593.2 L2580.0,1592.6 L2600.0,1591.8 L2620.0,1590.9 L2640.0,1590.0 L2660.0,1589.0 L2680.0,1588.0 M1800.0,1582.2 L1820.0,1583.6 L1840.0,1584.9 L1860.0,1586.3 L1880.0,1587.6 L1900.0,1588.9 L1920.0,1590.1 L1940.0,1591.4 L1960.0,1592.6 L1980.0,1593.8 L2000.0,1594.9 L2020.0,1596.0 L2040.0,1597.1 L2060.0,1598.2 L2080.0,1599.3 L2100.0,1600.3 L2120.0,1601.3 L2140.0,1602.3 L2160.0,1603.2 L2180.0,1604.0 L2200.0,1604.8 L2220.0,1605.5 L2240.0,1606.1 L2260.0,1606.6 L2280.0,1607.0 L2300.0,1607.4 L2320.0,1607.7 L2340.0,1607.9 L2360.0,1608.0 L2380.0,1608.0 L2400.0,1608.0 L2420.0,1607.9 L2440.0,1607.7 L2460.0,1607.4 L2480.0,1607.1 L2500.0,1606.7 L2520.0,1606.2 L2540.0,1605.7 L2560.0,1605.0 L2580.0,1604.4 L2600.0,1603.6 L2620.0,1602.7 L2640.0,1601.8 L2660.0,1600.8 L2680.0,1599.8 M1800.0,1594.0 L1820.0,1595.4 L1840.0,1596.7 L1860.0,1598.1 L1880.0,1599.4 L1900.0,1600.7 L1920.0,1601.9 L1940.0,1603.2 L1960.0,1604.4 L1980.0,1605.6 L2000.0,1606.7 L2020.0,1607.8 L2040.0,1608.9 L2060.0,1610.0 L2080.0,1611.1 L2100.0,1612.1 L2120.0,1613.1 L2140.0,1614.1 L2160.0,1615.0 L2180.0,1615.8 L2200.0,1616.6 L2220.0,1617.3 L2240.0,1617.9 L2260.0,1618.4 L2280.0,1618.8 L2300.0,1619.2 L2320.0,1619.5 L2340.0,1619.7 L2360.0,1619.8 L2380.0,1619.8 L2400.0,1619.8 L2420.0,1619.7 L2440.0,1619.5 L2460.0,1619.2 L2480.0,1618.9 L2500.0,1618.5 L2520.0,1618.0 L2540.0,1617.5 L2560.0,1616.8 L2580.0,1616.2 L2600.0,1615.4 L2620.0,1614.5 L2640.0,1613.6 L2660.0,1612.6 L2680.0,1611.6 M1800.0,1605.8 L1820.0,1607.2 L1840.0,1608.5 L1860.0,1609.9 L1880.0,1611.2 L1900.0,1612.5 L1920.0,1613.7 L1940.0,1615.0 L1960.0,1616.2 L1980.0,1617.4 L2000.0,1618.5 L2020.0,1619.6 L2040.0,1620.7 L2060.0,1621.8 L2080.0,1622.9 L2100.0,1623.9 L2120.0,1624.9 L2140.0,1625.9 L2160.0,1626.8 L2180.0,1627.6 L2200.0,1628.4 L2220.0,1629.1 L2240.0,1629.7 L2260.0,1630.2 L2280.0,1630.6 L2300.0,1631.0 L2320.0,1631.3 L2340.0,1631.5 L2360.0,1631.6 L2380.0,1631.6 L2400.0,1631.6 L2420.0,1631.5 L2440.0,1631.3 L2460.0,1631.0 L2480.0,1630.7 L2500.0,1630.3 L2520.0,1629.8 L2540.0,1629.3 L2560.0,1628.6 L2580.0,1628.0 L2600.0,1627.2 L2620.0,1626.3 L2640.0,1625.4 L2660.0,1624.4 L2680.0,1623.4 M1800.0,1617.6 L1820.0,1619.0 L1840.0,1620.3 L1860.0,1621.7 L1880.0,1623.0 L1900.0,1624.3 L1920.0,1625.5 L1940.0,1626.8 L1960.0,1628.0 L1980.0,1629.2 L2000.0,1630.3 L2020.0,1631.4 L2040.0,1632.5 L2060.0,1633.6 L2080.0,1634.7 L2100.0,1635.7 L2120.0,1636.7 L2140.0,1637.7 L2160.0,1638.6 L2180.0,1639.4 L2200.0,1640.2 L2220.0,1640.9 L2240.0,1641.5 L2260.0,1642.0 L2280.0,1642.4 L2300.0,1642.8 L2320.0,1643.1 L2340.0,1643.3 L2360.0,1643.4 L2380.0,1643.4 L2400.0,1643.4 L2420.0,1643.3 L2440.0,1643.1 L2460.0,1642.8 L2480.0,1642.5 L2500.0,1642.1 L2520.0,1641.6 L2540.0,1641.1 L2560.0,1640.4 L2580.0,1639.8 L2600.0,1639.0 L2620.0,1638.1 L2640.0,1637.2 L2660.0,1636.2 L2680.0,1635.2 M1800.0,1629.4 L1820.0,1630.8 L1840.0,1632.1 L1860.0,1633.5 L1880.0,1634.8 L1900.0,1636.1 L1920.0,1637.3 L1940.0,1638.6 L1960.0,1639.8 L1980.0,1641.0 L2000.0,1642.1 L2020.0,1643.2 L2040.0,1644.3 L2060.0,1645.4 L2080.0,1646.5 L2100.0,1647.5 L2120.0,1648.5 L2140.0,1649.5 L2160.0,1650.4 L2180.0,1651.2 L2200.0,1652.0 L2220.0,1652.7 L2240.0,1653.3 L2260.0,1653.8 L2280.0,1654.2 L2300.0,1654.6 L2320.0,1654.9 L2340.0,1655.1 L2360.0,1655.2 L2380.0,1655.2 L2400.0,1655.2 L2420.0,1655.1 L2440.0,1654.9 L2460.0,1654.6 L2480.0,1654.3 L2500.0,1653.9 L2520.0,1653.4 L2540.0,1652.9 L2560.0,1652.2 L2580.0,1651.6 L2600.0,1650.8 L2620.0,1649.9 L2640.0,1649.0 L2660.0,1648.0 L2680.0,1647.0 M1800.0,1641.2 L1820.0,1642.6 L1840.0,1643.9 L1860.0,1645.3 L1880.0,1646.6 L1900.0,1647.9 L1920.0,1649.1 L1940.0,1650.4 L1960.0,1651.6 L1980.0,1652.8 L2000.0,1653.9 L2020.0,1655.0 L2040.0,1656.1 L2060.0,1657.2 L2080.0,1658.3 L2100.0,1659.3 L2120.0,1660.3 L2140.0,1661.3 L2160.0,1662.2 L2180.0,1663.0 L2200.0,1663.8 L2220.0,1664.5 L2240.0,1665.1 L2260.0,1665.6 L2280.0,1666.0 L2300.0,1666.4 L2320.0,1666.7 L2340.0,1666.9 L2360.0,1667.0 L2380.0,1667.0 L2400.0,1667.0 L2420.0,1666.9 L2440.0,1666.7 L2460.0,1666.4 L2480.0,1666.1 L2500.0,1665.7 L2520.0,1665.2 L2540.0,1664.7 L2560.0,1664.0 L2580.0,1663.4 L2600.0,1662.6 L2620.0,1661.7 L2640.0,1660.8 L2660.0,1659.8 L2680.0,1658.8 M1800.0,1653.0 L1820.0,1654.4 L1840.0,1655.7 L1860.0,1657.1 L1880.0,1658.4 L1900.0,1659.7 L1920.0,1660.9 L1940.0,1662.2 L1960.0,1663.4 L1980.0,1664.6 L2000.0,1665.7 L2020.0,1666.8 L2040.0,1667.9 L2060.0,1669.0 L2080.0,1670.1 L2100.0,1671.1 L2120.0,1672.1 L2140.0,1673.1 L2160.0,1674.0 L2180.0,1674.8 L2200.0,1675.6 L2220.0,1676.3 L2240.0,1676.9 L2260.0,1677.4 L2280.0,1677.8 L2300.0,1678.2 L2320.0,1678.5 L2340.0,1678.7 L2360.0,1678.8 L2380.0,1678.8 L2400.0,1678.8 L2420.0,1678.7 L2440.0,1678.5 L2460.0,1678.2 L2480.0,1677.9 L2500.0,1677.5 L2520.0,1677.0 L2540.0,1676.5 L2560.0,1675.8 L2580.0,1675.2 L2600.0,1674.4 L2620.0,1673.5 L2640.0,1672.6 L2660.0,1671.6 L2680.0,1670.6 M1800.0,1664.8 L1820.0,1666.2 L1840.0,1667.5 L1860.0,1668.9 L1880.0,1670.2 L1900.0,1671.5 L1920.0,1672.7 L1940.0,1674.0 L1960.0,1675.2 L1980.0,1676.4 L2000.0,1677.5 L2020.0,1678.6 L2040.0,1679.7 L2060.0,1680.8 L2080.0,1681.9 L2100.0,1682.9 L2120.0,1683.9 L2140.0,1684.9 L2160.0,1685.8 L2180.0,1686.6 L2200.0,1687.4 L2220.0,1688.1 L2240.0,1688.7 L2260.0,1689.2 L2280.0,1689.6 L2300.0,1690.0 L2320.0,1690.3 L2340.0,1690.5 L2360.0,1690.6 L2380.0,1690.6 L2400.0,1690.6 L2420.0,1690.5 L2440.0,1690.3 L2460.0,1690.0 L2480.0,1689.7 L2500.0,1689.3 L2520.0,1688.8 L2540.0,1688.3 L2560.0,1687.6 L2580.0,1687.0 L2600.0,1686.2 L2620.0,1685.3 L2640.0,1684.4 L2660.0,1683.4 L2680.0,1682.4 M1800.0,1676.6 L1820.0,1678.0 L1840.0,1679.3 L1860.0,1680.7 L1880.0,1682.0 L1900.0,1683.3 L1920.0,1684.5 L1940.0,1685.8 L1960.0,1687.0 L1980.0,1688.2 L2000.0,1689.3 L2020.0,1690.4 L2040.0,1691.5 L2060.0,1692.6 L2080.0,1693.7 L2100.0,1694.7 L2120.0,1695.7 L2140.0,1696.7 L2160.0,1697.6 L2180.0,1698.4 L2200.0,1699.2 L2220.0,1699.9 L2240.0,1700.5 L2260.0,1701.0 L2280.0,1701.4 L2300.0,1701.8 L2320.0,1702.1 L2340.0,1702.3 L2360.0,1702.4 L2380.0,1702.4 L2400.0,1702.4 L2420.0,1702.3 L2440.0,1702.1 L2460.0,1701.8 L2480.0,1701.5 L2500.0,1701.1 L2520.0,1700.6 L2540.0,1700.1 L2560.0,1699.4 L2580.0,1698.8 L2600.0,1698.0 L2620.0,1697.1 L2640.0,1696.2 L2660.0,1695.2 L2680.0,1694.2 M1800.0,1688.4 L1820.0,1689.8 L1840.0,1691.1 L1860.0,1692.5 L1880.0,1693.8 L1900.0,1695.1 L1920.0,1696.3 L1940.0,1697.6 L1960.0,1698.8 L1980.0,1700.0 L2000.0,1701.1 L2020.0,1702.2 L2040.0,1703.3 L2060.0,1704.4 L2080.0,1705.5 L2100.0,1706.5 L2120.0,1707.5 L2140.0,1708.5 L2160.0,1709.4 L2180.0,1710.2 L2200.0,1711.0 L2220.0,1711.7 L2240.0,1712.3 L2260.0,1712.8 L2280.0,1713.2 L2300.0,1713.6 L2320.0,1713.9 L2340.0,1714.1 L2360.0,1714.2 L2380.0,1714.2 L2400.0,1714.2 L2420.0,1714.1 L2440.0,1713.9 L2460.0,1713.6 L2480.0,1713.3 L2500.0,1712.9 L2520.0,1712.4 L2540.0,1711.9 L2560.0,1711.2 L2580.0,1710.6 L2600.0,1709.8 L2620.0,1708.9 L2640.0,1708.0 L2660.0,1707.0 L2680.0,1706.0 M1800.0,1700.2 L1820.0,1701.6 L1840.0,1702.9 L1860.0,1704.3 L1880.0,1705.6 L1900.0,1706.9 L1920.0,1708.1 L1940.0,1709.4 L1960.0,1710.6 L1980.0,1711.8 L2000.0,1712.9 L2020.0,1714.0 L2040.0,1715.1 L2060.0,1716.2 L2080.0,1717.3 L2100.0,1718.3 L2120.0,1719.3 L2140.0,1720.3 L2160.0,1721.2 L2180.0,1722.0 L2200.0,1722.8 L2220.0,1723.5 L2240.0,1724.1 L2260.0,1724.6 L2280.0,1725.0 L2300.0,1725.4 L2320.0,1725.7 L2340.0,1725.9 L2360.0,1726.0 L2380.0,1726.0 L2400.0,1726.0 L2420.0,1725.9 L2440.0,1725.7 L2460.0,1725.4 L2480.0,1725.1 L2500.0,1724.7 L2520.0,1724.2 L2540.0,1723.7 L2560.0,1723.0 L2580.0,1722.4 L2600.0,1721.6 L2620.0,1720.7 L2640.0,1719.8 L2660.0,1718.8 L2680.0,1717.8 M1800.0,1712.0 L1820.0,1713.4 L1840.0,1714.7 L1860.0,1716.1 L1880.0,1717.4 L1900.0,1718.7 L1920.0,1719.9 L1940.0,1721.2 L1960.0,1722.4 L1980.0,1723.6 L2000.0,1724.7 L2020.0,1725.8 L2040.0,1726.9 L2060.0,1728.0 L2080.0,1729.1 L2100.0,1730.1 L2120.0,1731.1 L2140.0,1732.1 L2160.0,1733.0 L2180.0,1733.8 L2200.0,1734.6 L2220.0,1735.3 L2240.0,1735.9 L2260.0,1736.4 L2280.0,1736.8 L2300.0,1737.2 L2320.0,1737.5 L2340.0,1737.7 L2360.0,1737.8 L2380.0,1737.8 L2400.0,1737.8 L2420.0,1737.7 L2440.0,1737.5 L2460.0,1737.2 L2480.0,1736.9 L2500.0,1736.5 L2520.0,1736.0 L2540.0,1735.5 L2560.0,1734.8 L2580.0,1734.2 L2600.0,1733.4 L2620.0,1732.5 L2640.0,1731.6 L2660.0,1730.6 L2680.0,1729.6 M1800.0,1723.8 L1820.0,1725.2 L1840.0,1726.5 L1860.0,1727.9 L1880.0,1729.2 L1900.0,1730.5 L1920.0,1731.7 L1940.0,1733.0 L1960.0,1734.2 L1980.0,1735.4 L2000.0,1736.5 L2020.0,1737.6 L2040.0,1738.7 L2060.0,1739.8 L2080.0,1740.9 L2100.0,1741.9 L2120.0,1742.9 L2140.0,1743.9 L2160.0,1744.8 L2180.0,1745.6 L2200.0,1746.4 L2220.0,1747.1 L2240.0,1747.7 L2260.0,1748.2 L2280.0,1748.6 L2300.0,1749.0 L2320.0,1749.3 L2340.0,1749.5 L2360.0,1749.6 L2380.0,1749.6 L2400.0,1749.6 L2420.0,1749.5 L2440.0,1749.3 L2460.0,1749.0 L2480.0,1748.7 L2500.0,1748.3 L2520.0,1747.8 L2540.0,1747.3 L2560.0,1746.6 L2580.0,1746.0 L2600.0,1745.2 L2620.0,1744.3 L2640.0,1743.4 L2660.0,1742.4 L2680.0,1741.4 M1800.0,1735.6 L1820.0,1737.0 L1840.0,1738.3 L1860.0,1739.7 L1880.0,1741.0 L1900.0,1742.3 L1920.0,1743.5 L1940.0,1744.8 L1960.0,1746.0 L1980.0,1747.2 L2000.0,1748.3 L2020.0,1749.4 L2040.0,1750.5 L2060.0,1751.6 L2080.0,1752.7 L2100.0,1753.7 L2120.0,1754.7 L2140.0,1755.7 L2160.0,1756.6 L2180.0,1757.4 L2200.0,1758.2 L2220.0,1758.9 L2240.0,1759.5 L2260.0,1760.0 L2280.0,1760.4 L2300.0,1760.8 L2320.0,1761.1 L2340.0,1761.3 L2360.0,1761.4 L2380.0,1761.4 L2400.0,1761.4 L2420.0,1761.3 L2440.0,1761.1 L2460.0,1760.8 L2480.0,1760.5 L2500.0,1760.1 L2520.0,1759.6 L2540.0,1759.1 L2560.0,1758.4 L2580.0,1757.8 L2600.0,1757.0 L2620.0,1756.1 L2640.0,1755.2 L2660.0,1754.2 L2680.0,1753.2 M1800.0,1747.4 L1820.0,1748.8 L1840.0,1750.1 L1860.0,1751.5 L1880.0,1752.8 L1900.0,1754.1 L1920.0,1755.3 L1940.0,1756.6 L1960.0,1757.8 L1980.0,1759.0 L2000.0,1760.1 L2020.0,1761.2 L2040.0,1762.3 L2060.0,1763.4 L2080.0,1764.5 L2100.0,1765.5 L2120.0,1766.5 L2140.0,1767.5 L2160.0,1768.4 L2180.0,1769.2 L2200.0,1770.0 L2220.0,1770.7 L2240.0,1771.3 L2260.0,1771.8 L2280.0,1772.2 L2300.0,1772.6 L2320.0,1772.9 L2340.0,1773.1 L2360.0,1773.2 L2380.0,1773.2 L2400.0,1773.2 L2420.0,1773.1 L2440.0,1772.9 L2460.0,1772.6 L2480.0,1772.3 L2500.0,1771.9 L2520.0,1771.4 L2540.0,1770.9 L2560.0,1770.2 L2580.0,1769.6 L2600.0,1768.8 L2620.0,1767.9 L2640.0,1767.0 L2660.0,1766.0 L2680.0,1765.0 M1800.0,1759.2 L1820.0,1760.6 L1840.0,1761.9 L1860.0,1763.3 L1880.0,1764.6 L1900.0,1765.9 L1920.0,1767.1 L1940.0,1768.4 L1960.0,1769.6 L1980.0,1770.8 L2000.0,1771.9 L2020.0,1773.0 L2040.0,1774.1 L2060.0,1775.2 L2080.0,1776.3 L2100.0,1777.3 L2120.0,1778.3 L2140.0,1779.3 L2160.0,1780.2 L2180.0,1781.0 L2200.0,1781.8 L2220.0,1782.5 L2240.0,1783.1 L2260.0,1783.6 L2280.0,1784.0 L2300.0,1784.4 L2320.0,1784.7 L2340.0,1784.9 L2360.0,1785.0 L2380.0,1785.0 L2400.0,1785.0 L2420.0,1784.9 L2440.0,1784.7 L2460.0,1784.4 L2480.0,1784.1 L2500.0,1783.7 L2520.0,1783.2 L2540.0,1782.7 L2560.0,1782.0 L2580.0,1781.4 L2600.0,1780.6 L2620.0,1779.7 L2640.0,1778.8 L2660.0,1777.8 L2680.0,1776.8 M1800.0,1771.0 L1820.0,1772.4 L1840.0,1773.7 L1860.0,1775.1 L1880.0,1776.4 L1900.0,1777.7 L1920.0,1778.9 L1940.0,1780.2 L1960.0,1781.4 L1980.0,1782.6 L2000.0,1783.7 L2020.0,1784.8 L2040.0,1785.9 L2060.0,1787.0 L2080.0,1788.1 L2100.0,1789.1 L2120.0,1790.1 L2140.0,1791.1 L2160.0,1792.0 L2180.0,1792.8 L2200.0,1793.6 L2220.0,1794.3 L2240.0,1794.9 L2260.0,1795.4 L2280.0,1795.8 L2300.0,1796.2 L2320.0,1796.5 L2340.0,1796.7 L2360.0,1796.8 L2380.0,1796.8 L2400.0,1796.8 L2420.0,1796.7 L2440.0,1796.5 L2460.0,1796.2 L2480.0,1795.9 L2500.0,1795.5 L2520.0,1795.0 L2540.0,1794.5 L2560.0,1793.8 L2580.0,1793.2 L2600.0,1792.4 L2620.0,1791.5 L2640.0,1790.6 L2660.0,1789.6 L2680.0,1788.6 M1800.0,1782.8 L1820.0,1784.2 L1840.0,1785.5 L1860.0,1786.9 L1880.0,1788.2 L1900.0,1789.5 L1920.0,1790.7 L1940.0,1792.0 L1960.0,1793.2 L1980.0,1794.4 L2000.0,1795.5 L2020.0,1796.6 L2040.0,1797.7 L2060.0,1798.8 L2080.0,1799.9 L2100.0,1800.9 L2120.0,1801.9 L2140.0,1802.9 L2160.0,1803.8 L2180.0,1804.6 L2200.0,1805.4 L2220.0,1806.1 L2240.0,1806.7 L2260.0,1807.2 L2280.0,1807.6 L2300.0,1808.0 L2320.0,1808.3 L2340.0,1808.5 L2360.0,1808.6 L2380.0,1808.6 L2400.0,1808.6 L2420.0,1808.5 L2440.0,1808.3 L2460.0,1808.0 L2480.0,1807.7 L2500.0,1807.3 L2520.0,1806.8 L2540.0,1806.3 L2560.0,1805.6 L2580.0,1805.0 L2600.0,1804.2 L2620.0,1803.3 L2640.0,1802.4 L2660.0,1801.4 L2680.0,1800.4 M1800.0,1794.6 L1820.0,1796.0 L1840.0,1797.3 L1860.0,1798.7 L1880.0,1800.0 L1900.0,1801.3 L1920.0,1802.5 L1940.0,1803.8 L1960.0,1805.0 L1980.0,1806.2 L2000.0,1807.3 L2020.0,1808.4 L2040.0,1809.5 L2060.0,1810.6 L2080.0,1811.7 L2100.0,1812.7 L2120.0,1813.7 L2140.0,1814.7 L2160.0,1815.6 L2180.0,1816.4 L2200.0,1817.2 L2220.0,1817.9 L2240.0,1818.5 L2260.0,1819.0 L2280.0,1819.4 L2300.0,1819.8 L2320.0,1820.1 L2340.0,1820.3 L2360.0,1820.4 L2380.0,1820.4 L2400.0,1820.4 L2420.0,1820.3 L2440.0,1820.1 L2460.0,1819.8 L2480.0,1819.5 L2500.0,1819.1 L2520.0,1818.6 L2540.0,1818.1 L2560.0,1817.4 L2580.0,1816.8 L2600.0,1816.0 L2620.0,1815.1 L2640.0,1814.2 L2660.0,1813.2 L2680.0,1812.2 M1800.0,1806.4 L1820.0,1807.8 L1840.0,1809.1 L1860.0,1810.5 L1880.0,1811.8 L1900.0,1813.1 L1920.0,1814.3 L1940.0,1815.6 L1960.0,1816.8 L1980.0,1818.0 L2000.0,1819.1 L2020.0,1820.2 L2040.0,1821.3 L2060.0,1822.4 L2080.0,1823.5 L2100.0,1824.5 L2120.0,1825.5 L2140.0,1826.5 L2160.0,1827.4 L2180.0,1828.2 L2200.0,1829.0 L2220.0,1829.7 L2240.0,1830.3 L2260.0,1830.8 L2280.0,1831.2 L2300.0,1831.6 L2320.0,1831.9 L2340.0,1832.1 L2360.0,1832.2 L2380.0,1832.2 L2400.0,1832.2 L2420.0,1832.1 L2440.0,1831.9 L2460.0,1831.6 L2480.0,1831.3 L2500.0,1830.9 L2520.0,1830.4 L2540.0,1829.9 L2560.0,1829.2 L2580.0,1828.6 L2600.0,1827.8 L2620.0,1826.9 L2640.0,1826.0 L2660.0,1825.0 L2680.0,1824.0 M1800.0,1818.2 L1820.0,1819.6 L1840.0,1820.9 L1860.0,1822.3 L1880.0,1823.6 L1900.0,1824.9 L1920.0,1826.1 L1940.0,1827.4 L1960.0,1828.6 L1980.0,1829.8 L2000.0,1830.9 L2020.0,1832.0 L2040.0,1833.1 L2060.0,1834.2 L2080.0,1835.3 L2100.0,1836.3 L2120.0,1837.3 L2140.0,1838.3 L2160.0,1839.2 L2180.0,1840.0 L2200.0,1840.8 L2220.0,1841.5 L2240.0,1842.1 L2260.0,1842.6 L2280.0,1843.0 L2300.0,1843.4 L2320.0,1843.7 L2340.0,1843.9 L2360.0,1844.0 L2380.0,1844.0 L2400.0,1844.0 L2420.0,1843.9 L2440.0,1843.7 L2460.0,1843.4 L2480.0,1843.1 L2500.0,1842.7 L2520.0,1842.2 L2540.0,1841.7 L2560.0,1841.0 L2580.0,1840.4 L2600.0,1839.6 L2620.0,1838.7 L2640.0,1837.8 L2660.0,1836.8 L2680.0,1835.8 M1800.0,1830.0 L1820.0,1831.4 L1840.0,1832.7 L1860.0,1834.1 L1880.0,1835.4 L1900.0,1836.7 L1920.0,1837.9 L1940.0,1839.2 L1960.0,1840.4 L1980.0,1841.6 L2000.0,1842.7 L2020.0,1843.8 L2040.0,1844.9 L2060.0,1846.0 L2080.0,1847.1 L2100.0,1848.1 L2120.0,1849.1 L2140.0,1850.1 L2160.0,1851.0 L2180.0,1851.8 L2200.0,1852.6 L2220.0,1853.3 L2240.0,1853.9 L2260.0,1854.4 L2280.0,1854.8 L2300.0,1855.2 L2320.0,1855.5 L2340.0,1855.7 L2360.0,1855.8 L2380.0,1855.8 L2400.0,1855.8 L2420.0,1855.7 L2440.0,1855.5 L2460.0,1855.2 L2480.0,1854.9 L2500.0,1854.5 L2520.0,1854.0 L2540.0,1853.5 L2560.0,1852.8 L2580.0,1852.2 L2600.0,1851.4 L2620.0,1850.5 L2640.0,1849.6 L2660.0,1848.6 L2680.0,1847.6 M1800.0,1841.8 L1820.0,1843.2 L1840.0,1844.5 L1860.0,1845.9 L1880.0,1847.2 L1900.0,1848.5 L1920.0,1849.7 L1940.0,1851.0 L1960.0,1852.2 L1980.0,1853.4 L2000.0,1854.5 L2020.0,1855.6 L2040.0,1856.7 L2060.0,1857.8 L2080.0,1858.9 L2100.0,1859.9 L2120.0,1860.9 L2140.0,1861.9 L2160.0,1862.8 L2180.0,1863.6 L2200.0,1864.4 L2220.0,1865.1 L2240.0,1865.7 L2260.0,1866.2 L2280.0,1866.6 L2300.0,1867.0 L2320.0,1867.3 L2340.0,1867.5 L2360.0,1867.6 L2380.0,1867.6 L2400.0,1867.6 L2420.0,1867.5 L2440.0,1867.3 L2460.0,1867.0 L2480.0,1866.7 L2500.0,1866.3 L2520.0,1865.8 L2540.0,1865.3 L2560.0,1864.6 L2580.0,1864.0 L2600.0,1863.2 L2620.0,1862.3 L2640.0,1861.4 L2660.0,1860.4 L2680.0,1859.4 M1800.0,1853.6 L1820.0,1855.0 L1840.0,1856.3 L1860.0,1857.7 L1880.0,1859.0 L1900.0,1860.3 L1920.0,1861.5 L1940.0,1862.8 L1960.0,1864.0 L1980.0,1865.2 L2000.0,1866.3 L2020.0,1867.4 L2040.0,1868.5 L2060.0,1869.6 L2080.0,1870.7 L2100.0,1871.7 L2120.0,1872.7 L2140.0,1873.7 L2160.0,1874.6 L2180.0,1875.4 L2200.0,1876.2 L2220.0,1876.9 L2240.0,1877.5 L2260.0,1878.0 L2280.0,1878.4 L2300.0,1878.8 L2320.0,1879.1 L2340.0,1879.3 L2360.0,1879.4 L2380.0,1879.4 L2400.0,1879.4 L2420.0,1879.3 L2440.0,1879.1 L2460.0,1878.8 L2480.0,1878.5 L2500.0,1878.1 L2520.0,1877.6 L2540.0,1877.1 L2560.0,1876.4 L2580.0,1875.8 L2600.0,1875.0 L2620.0,1874.1 L2640.0,1873.2 L2660.0,1872.2 L2680.0,1871.2 M1800.0,1865.4 L1820.0,1866.8 L1840.0,1868.1 L1860.0,1869.5 L1880.0,1870.8 L1900.0,1872.1 L1920.0,1873.3 L1940.0,1874.6 L1960.0,1875.8 L1980.0,1877.0 L2000.0,1878.1 L2020.0,1879.2 L2040.0,1880.3 L2060.0,1881.4 L2080.0,1882.5 L2100.0,1883.5 L2120.0,1884.5 L2140.0,1885.5 L2160.0,1886.4 L2180.0,1887.2 L2200.0,1888.0 L2220.0,1888.7 L2240.0,1889.3 L2260.0,1889.8 L2280.0,1890.2 L2300.0,1890.6 L2320.0,1890.9 L2340.0,1891.1 L2360.0,1891.2 L2380.0,1891.2 L2400.0,1891.2 L2420.0,1891.1 L2440.0,1890.9 L2460.0,1890.6 L2480.0,1890.3 L2500.0,1889.9 L2520.0,1889.4 L2540.0,1888.9 L2560.0,1888.2 L2580.0,1887.6 L2600.0,1886.8 L2620.0,1885.9 L2640.0,1885.0 L2660.0,1884.0 L2680.0,1883.0 M1800.0,1877.2 L1820.0,1878.6 L1840.0,1879.9 L1860.0,1881.3 L1880.0,1882.6 L1900.0,1883.9 L1920.0,1885.1 L1940.0,1886.4 L1960.0,1887.6 L1980.0,1888.8 L2000.0,1889.9 L2020.0,1891.0 L2040.0,1892.1 L2060.0,1893.2 L2080.0,1894.3 L2100.0,1895.3 L2120.0,1896.3 L2140.0,1897.3 L2160.0,1898.2 L2180.0,1899.0 L2200.0,1899.8 L2220.0,1900.5 L2240.0,1901.1 L2260.0,1901.6 L2280.0,1902.0 L2300.0,1902.4 L2320.0,1902.7 L2340.0,1902.9 L2360.0,1903.0 L2380.0,1903.0 L2400.0,1903.0 L2420.0,1902.9 L2440.0,1902.7 L2460.0,1902.4 L2480.0,1902.1 L2500.0,1901.7 L2520.0,1901.2 L2540.0,1900.7 L2560.0,1900.0 L2580.0,1899.4 L2600.0,1898.6 L2620.0,1897.7 L2640.0,1896.8 L2660.0,1895.8 L2680.0,1894.8 M1800.0,1889.0 L1820.0,1890.4 L1840.0,1891.7 L1860.0,1893.1 L1880.0,1894.4 L1900.0,1895.7 L1920.0,1896.9 L1940.0,1898.2 L1960.0,1899.4 L1980.0,1900.6 L2000.0,1901.7 L2020.0,1902.8 L2040.0,1903.9 L2060.0,1905.0 L2080.0,1906.1 L2100.0,1907.1 L2120.0,1908.1 L2140.0,1909.1 L2160.0,1910.0 L2180.0,1910.8 L2200.0,1911.6 L2220.0,1912.3 L2240.0,1912.9 L2260.0,1913.4 L2280.0,1913.8 L2300.0,1914.2 L2320.0,1914.5 L2340.0,1914.7 L2360.0,1914.8 L2380.0,1914.8 L2400.0,1914.8 L2420.0,1914.7 L2440.0,1914.5 L2460.0,1914.2 L2480.0,1913.9 L2500.0,1913.5 L2520.0,1913.0 L2540.0,1912.5 L2560.0,1911.8 L2580.0,1911.2 L2600.0,1910.4 L2620.0,1909.5 L2640.0,1908.6 L2660.0,1907.6 L2680.0,1906.6 M1800.0,1900.8 L1820.0,1902.2 L1840.0,1903.5 L1860.0,1904.9 L1880.0,1906.2 L1900.0,1907.5 L1920.0,1908.7 L1940.0,1910.0 L1960.0,1911.2 L1980.0,1912.4 L2000.0,1913.5 L2020.0,1914.6 L2040.0,1915.7 L2060.0,1916.8 L2080.0,1917.9 L2100.0,1918.9 L2120.0,1919.9 L2140.0,1920.9 L2160.0,1921.8 L2180.0,1922.6 L2200.0,1923.4 L2220.0,1924.1 L2240.0,1924.7 L2260.0,1925.2 L2280.0,1925.6 L2300.0,1926.0 L2320.0,1926.3 L2340.0,1926.5 L2360.0,1926.6 L2380.0,1926.6 L2400.0,1926.6 L2420.0,1926.5 L2440.0,1926.3 L2460.0,1926.0 L2480.0,1925.7 L2500.0,1925.3 L2520.0,1924.8 L2540.0,1924.3 L2560.0,1923.6 L2580.0,1923.0 L2600.0,1922.2 L2620.0,1921.3 L2640.0,1920.4 L2660.0,1919.4 L2680.0,1918.4 M1800.0,1912.6 L1820.0,1914.0 L1840.0,1915.3 L1860.0,1916.7 L1880.0,1918.0 L1900.0,1919.3 L1920.0,1920.5 L1940.0,1921.8 L1960.0,1923.0 L1980.0,1924.2 L2000.0,1925.3 L2020.0,1926.4 L2040.0,1927.5 L2060.0,1928.6 L2080.0,1929.7 L2100.0,1930.7 L2120.0,1931.7 L2140.0,1932.7 L2160.0,1933.6 L2180.0,1934.4 L2200.0,1935.2 L2220.0,1935.9 L2240.0,1936.5 L2260.0,1937.0 L2280.0,1937.4 L2300.0,1937.8 L2320.0,1938.1 L2340.0,1938.3 L2360.0,1938.4 L2380.0,1938.4 L2400.0,1938.4 L2420.0,1938.3 L2440.0,1938.1 L2460.0,1937.8 L2480.0,1937.5 L2500.0,1937.1 L2520.0,1936.6 L2540.0,1936.1 L2560.0,1935.4 L2580.0,1934.8 L2600.0,1934.0 L2620.0,1933.1 L2640.0,1932.2 L2660.0,1931.2 L2680.0,1930.2 M1800.0,1924.4 L1820.0,1925.8 L1840.0,1927.1 L1860.0,1928.5 L1880.0,1929.8 L1900.0,1931.1 L1920.0,1932.3 L1940.0,1933.6 L1960.0,1934.8 L1980.0,1936.0 L2000.0,1937.1 L2020.0,1938.2 L2040.0,1939.3 L2060.0,1940.4 L2080.0,1941.5 L2100.0,1942.5 L2120.0,1943.5 L2140.0,1944.5 L2160.0,1945.4 L2180.0,1946.2 L2200.0,1947.0 L2220.0,1947.7 L2240.0,1948.3 L2260.0,1948.8 L2280.0,1949.2 L2300.0,1949.6 L2320.0,1949.9 L2340.0,1950.1 L2360.0,1950.2 L2380.0,1950.2 L2400.0,1950.2 L2420.0,1950.1 L2440.0,1949.9 L2460.0,1949.6 L2480.0,1949.3 L2500.0,1948.9 L2520.0,1948.4 L2540.0,1947.9 L2560.0,1947.2 L2580.0,1946.6 L2600.0,1945.8 L2620.0,1944.9 L2640.0,1944.0 L2660.0,1943.0 L2680.0,1942.0 M1800.0,1936.2 L1820.0,1937.6 L1840.0,1938.9 L1860.0,1940.3 L1880.0,1941.6 L1900.0,1942.9 L1920.0,1944.1 L1940.0,1945.4 L1960.0,1946.6 L1980.0,1947.8 L2000.0,1948.9 L2020.0,1950.0 L2040.0,1951.1 L2060.0,1952.2 L2080.0,1953.3 L2100.0,1954.3 L2120.0,1955.3 L2140.0,1956.3 L2160.0,1957.2 L2180.0,1958.0 L2200.0,1958.8 L2220.0,1959.5 L2240.0,1960.1 L2260.0,1960.6 L2280.0,1961.0 L2300.0,1961.4 L2320.0,1961.7 L2340.0,1961.9 L2360.0,1962.0 L2380.0,1962.0 L2400.0,1962.0 L2420.0,1961.9 L2440.0,1961.7 L2460.0,1961.4 L2480.0,1961.1 L2500.0,1960.7 L2520.0,1960.2 L2540.0,1959.7 L2560.0,1959.0 L2580.0,1958.4 L2600.0,1957.6 L2620.0,1956.7 L2640.0,1955.8 L2660.0,1954.8 L2680.0,1953.8 M1800.0,1948.0 L1820.0,1949.4 L1840.0,1950.7 L1860.0,1952.1 L1880.0,1953.4 L1900.0,1954.7 L1920.0,1955.9 L1940.0,1957.2 L1960.0,1958.4 L1980.0,1959.6 L2000.0,1960.7 L2020.0,1961.8 L2040.0,1962.9 L2060.0,1964.0 L2080.0,1965.1 L2100.0,1966.1 L2120.0,1967.1 L2140.0,1968.1 L2160.0,1969.0 L2180.0,1969.8 L2200.0,1970.6 L2220.0,1971.3 L2240.0,1971.9 L2260.0,1972.4 L2280.0,1972.8 L2300.0,1973.2 L2320.0,1973.5 L2340.0,1973.7 L2360.0,1973.8 L2380.0,1973.8 L2400.0,1973.8 L2420.0,1973.7 L2440.0,1973.5 L2460.0,1973.2 L2480.0,1972.9 L2500.0,1972.5 L2520.0,1972.0 L2540.0,1971.5 L2560.0,1970.8 L2580.0,1970.2 L2600.0,1969.4 L2620.0,1968.5 L2640.0,1967.6 L2660.0,1966.6 L2680.0,1965.6 M1800.0,1959.8 L1820.0,1961.2 L1840.0,1962.5 L1860.0,1963.9 L1880.0,1965.2 L1900.0,1966.5 L1920.0,1967.7 L1940.0,1969.0 L1960.0,1970.2 L1980.0,1971.4 L2000.0,1972.5 L2020.0,1973.6 L2040.0,1974.7 L2060.0,1975.8 L2080.0,1976.9 L2100.0,1977.9 L2120.0,1978.9 L2140.0,1979.9 L2160.0,1980.8 L2180.0,1981.6 L2200.0,1982.4 L2220.0,1983.1 L2240.0,1983.7 L2260.0,1984.2 L2280.0,1984.6 L2300.0,1985.0 L2320.0,1985.3 L2340.0,1985.5 L2360.0,1985.6 L2380.0,1985.6 L2400.0,1985.6 L2420.0,1985.5 L2440.0,1985.3 L2460.0,1985.0 L2480.0,1984.7 L2500.0,1984.3 L2520.0,1983.8 L2540.0,1983.3 L2560.0,1982.6 L2580.0,1982.0 L2600.0,1981.2 L2620.0,1980.3 L2640.0,1979.4 L2660.0,1978.4 L2680.0,1977.4 M1800.0,1971.6 L1820.0,1973.0 L1840.0,1974.3 L1860.0,1975.7 L1880.0,1977.0 L1900.0,1978.3 L1920.0,1979.5 L1940.0,1980.8 L1960.0,1982.0 L1980.0,1983.2 L2000.0,1984.3 L2020.0,1985.4 L2040.0,1986.5 L2060.0,1987.6 L2080.0,1988.7 L2100.0,1989.7 L2120.0,1990.7 L2140.0,1991.7 L2160.0,1992.6 L2180.0,1993.4 L2200.0,1994.2 L2220.0,1994.9 L2240.0,1995.5 L2260.0,1996.0 L2280.0,1996.4 L2300.0,1996.8 L2320.0,1997.1 L2340.0,1997.3 L2360.0,1997.4 L2380.0,1997.4 L2400.0,1997.4 L2420.0,1997.3 L2440.0,1997.1 L2460.0,1996.8 L2480.0,1996.5 L2500.0,1996.1 L2520.0,1995.6 L2540.0,1995.1 L2560.0,1994.4 L2580.0,1993.8 L2600.0,1993.0 L2620.0,1992.1 L2640.0,1991.2 L2660.0,1990.2 L2680.0,1989.2 M1800.0,1983.4 L1820.0,1984.8 L1840.0,1986.1 L1860.0,1987.5 L1880.0,1988.8 L1900.0,1990.1 L1920.0,1991.3 L1940.0,1992.6 L1960.0,1993.8 L1980.0,1995.0 L2000.0,1996.1 L2020.0,1997.2 L2040.0,1998.3 L2060.0,1999.4 L2080.0,2000.5 L2100.0,2001.5 L2120.0,2002.5 L2140.0,2003.5 L2160.0,2004.4 L2180.0,2005.2 L2200.0,2006.0 L2220.0,2006.7 L2240.0,2007.3 L2260.0,2007.8 L2280.0,2008.2 L2300.0,2008.6 L2320.0,2008.9 L2340.0,2009.1 L2360.0,2009.2 L2380.0,2009.2 L2400.0,2009.2 L2420.0,2009.1 L2440.0,2008.9 L2460.0,2008.6 L2480.0,2008.3 L2500.0,2007.9 L2520.0,2007.4 L2540.0,2006.9 L2560.0,2006.2 L2580.0,2005.6 L2600.0,2004.8 L2620.0,2003.9 L2640.0,2003.0 L2660.0,2002.0 L2680.0,2001.0 M1800.0,1995.2 L1820.0,1996.6 L1840.0,1997.9 L1860.0,1999.3 L1880.0,2000.6 L1900.0,2001.9 L1920.0,2003.1 L1940.0,2004.4 L1960.0,2005.6 L1980.0,2006.8 L2000.0,2007.9 L2020.0,2009.0 L2040.0,2010.1 L2060.0,2011.2 L2080.0,2012.3 L2100.0,2013.3 L2120.0,2014.3 L2140.0,2015.3 L2160.0,2016.2 L2180.0,2017.0 L2200.0,2017.8 L2220.0,2018.5 L2240.0,2019.1 L2260.0,2019.6 L2280.0,2020.0 L2300.0,2020.4 L2320.0,2020.7 L2340.0,2020.9 L2360.0,2021.0 L2380.0,2021.0 L2400.0,2021.0 L2420.0,2020.9 L2440.0,2020.7 L2460.0,2020.4 L2480.0,2020.1 L2500.0,2019.7 L2520.0,2019.2 L2540.0,2018.7 L2560.0,2018.0 L2580.0,2017.4 L2600.0,2016.6 L2620.0,2015.7 L2640.0,2014.8 L2660.0,2013.8 L2680.0,2012.8" fill="none" stroke="#000" stroke-width="2.6"/></g>
<path d="M1822.0,1481.0 C1829.0,1493.3 1849.2,1534.8 1864.0,1555.0 C1878.8,1575.2 1889.3,1584.7 1911.0,1602.0 C1932.7,1619.3 1974.2,1646.0 1994.0,1659.0 C2013.8,1672.0 2024.0,1676.5 2030.0,1680.0L2030.0,1680.0 L2050.0,1720.0 L2300.0,1740.0 L2340.0,1700.0 L2370.0,1640.0 L2389.0,1585.0L2389.0,1585.0 C2394.7,1581.5 2400.2,1579.5 2423.0,1564.0 C2445.8,1548.5 2496.5,1519.3 2526.0,1492.0 C2555.5,1464.7 2579.2,1432.8 2600.0,1400.0 C2620.8,1367.2 2642.5,1312.5 2651.0,1295.0L2651.0,1295.0 C2649.2,1320.8 2643.5,1403.5 2640.0,1450.0 C2636.5,1496.5 2649.0,1520.5 2630.0,1574.0 C2611.0,1627.5 2564.8,1717.5 2526.0,1771.0 C2487.2,1824.5 2440.0,1863.0 2397.0,1895.0 C2354.0,1927.0 2311.2,1949.2 2268.0,1963.0 C2224.8,1976.8 2176.8,1977.2 2138.0,1978.0 C2099.2,1978.8 2069.5,1976.7 2035.0,1968.0 C2000.5,1959.3 1961.2,1945.8 1931.0,1926.0 C1900.8,1906.2 1872.2,1874.8 1854.0,1849.0 C1835.8,1823.2 1827.3,1832.3 1822.0,1771.0 C1816.7,1709.7 1822.0,1529.3 1822.0,1481.0" fill="none" stroke="#000" stroke-width="6" stroke-linejoin="round" stroke-linecap="round" />
<path d="M2761.0,576.0 C2767.0,576.7 2785.0,576.5 2797.0,580.0 C2809.0,583.5 2821.0,590.3 2833.0,597.0 C2845.0,603.7 2858.7,609.7 2869.0,620.0 C2879.3,630.3 2886.3,642.2 2895.0,659.0 C2903.7,675.8 2912.3,698.7 2921.0,721.0 C2929.7,743.3 2942.7,781.0 2947.0,793.0L2947.0,793.0 C2941.0,784.5 2922.2,755.7 2911.0,742.0 C2899.8,728.3 2890.3,718.0 2880.0,711.0 C2869.7,704.0 2860.3,701.8 2849.0,700.0 C2837.7,698.2 2820.7,700.8 2812.0,700.0 C2803.3,699.2 2799.5,700.2 2797.0,695.0 C2794.5,689.8 2796.7,680.2 2797.0,669.0 C2797.3,657.8 2799.8,638.8 2799.0,628.0 C2798.2,617.2 2798.3,612.7 2792.0,604.0 C2785.7,595.3 2766.2,580.7 2761.0,576.0" fill="#bcbdc0" stroke="#000" stroke-width="6" stroke-linejoin="round" stroke-linecap="round" />
<path d="M1493.0,1150.0 L1581.0,1199.0 L1573.0,1223.0 L1489.0,1173.0Z" fill="#bcbdc0" stroke="none" stroke-width="0" stroke-linejoin="round" stroke-linecap="round" />
<path d="M2955.0,1200.0 L3061.0,1197.0 L3066.0,1223.0 L2960.0,1226.0Z" fill="#bcbdc0" stroke="none" stroke-width="0" stroke-linejoin="round" stroke-linecap="round" />
<path d="M1949.0,704.0 L1951.0,644.0 L1939.0,640.0L1939.0,640.0 C1933.3,641.2 1914.0,645.0 1905.0,647.0 C1896.0,649.0 1890.8,648.0 1885.0,652.0 C1879.2,656.0 1875.8,660.2 1870.0,671.0 C1864.2,681.8 1857.2,693.8 1850.0,717.0 C1842.8,740.2 1833.2,778.3 1827.0,810.0 C1820.8,841.7 1816.3,873.3 1813.0,907.0 C1809.7,940.7 1808.0,994.5 1807.0,1012.0L1807.0,1012.0 L1827.0,1028.0L1827.0,1028.0 C1840.0,1011.2 1882.3,956.8 1905.0,927.0 C1927.7,897.2 1953.3,862.0 1963.0,849.0L1963.0,849.0 C1963.7,843.8 1967.5,829.5 1967.0,818.0 C1966.5,806.5 1962.7,792.8 1960.0,780.0 C1957.3,767.2 1952.5,747.5 1951.0,741.0" fill="none" stroke="#000" stroke-width="22" stroke-linejoin="miter" stroke-miterlimit="4" stroke-linecap="butt"/>
<path d="M1949.0,704.0 L1951.0,644.0 L1939.0,640.0L1939.0,640.0 C1933.3,641.2 1914.0,645.0 1905.0,647.0 C1896.0,649.0 1890.8,648.0 1885.0,652.0 C1879.2,656.0 1875.8,660.2 1870.0,671.0 C1864.2,681.8 1857.2,693.8 1850.0,717.0 C1842.8,740.2 1833.2,778.3 1827.0,810.0 C1820.8,841.7 1816.3,873.3 1813.0,907.0 C1809.7,940.7 1808.0,994.5 1807.0,1012.0L1807.0,1012.0 L1827.0,1028.0L1827.0,1028.0 C1840.0,1011.2 1882.3,956.8 1905.0,927.0 C1927.7,897.2 1953.3,862.0 1963.0,849.0L1963.0,849.0 C1963.7,843.8 1967.5,829.5 1967.0,818.0 C1966.5,806.5 1962.7,792.8 1960.0,780.0 C1957.3,767.2 1952.5,747.5 1951.0,741.0" fill="none" stroke="#b9babd" stroke-width="12" stroke-linejoin="miter" stroke-miterlimit="4" stroke-linecap="butt"/>
<path d="M2457.0,716.0 L2499.0,646.0 L2528.0,639.0L2528.0,639.0 C2533.3,641.0 2549.8,647.8 2560.0,651.0 C2570.2,654.2 2584.2,656.8 2589.0,658.0L2589.0,658.0 C2590.5,662.8 2600.3,658.5 2598.0,687.0 C2595.7,715.5 2581.3,790.3 2575.0,829.0 C2568.7,867.7 2564.0,887.0 2560.0,919.0 C2556.0,951.0 2552.5,1004.0 2551.0,1021.0L2551.0,1021.0 L2511.0,1035.0 L2459.0,966.0 L2386.0,868.0 L2384.0,858.0 L2432.0,760.0" fill="none" stroke="#000" stroke-width="22" stroke-linejoin="miter" stroke-miterlimit="4" stroke-linecap="butt"/>
<path d="M2457.0,716.0 L2499.0,646.0 L2528.0,639.0L2528.0,639.0 C2533.3,641.0 2549.8,647.8 2560.0,651.0 C2570.2,654.2 2584.2,656.8 2589.0,658.0L2589.0,658.0 C2590.5,662.8 2600.3,658.5 2598.0,687.0 C2595.7,715.5 2581.3,790.3 2575.0,829.0 C2568.7,867.7 2564.0,887.0 2560.0,919.0 C2556.0,951.0 2552.5,1004.0 2551.0,1021.0L2551.0,1021.0 L2511.0,1035.0 L2459.0,966.0 L2386.0,868.0 L2384.0,858.0 L2432.0,760.0" fill="none" stroke="#b9babd" stroke-width="12" stroke-linejoin="miter" stroke-miterlimit="4" stroke-linecap="butt"/>
<path d="M1869.0,1559.0 L1921.0,1424.0 L1934.0,1450.0 L1881.0,1582.0Z" fill="#bcbdc0" stroke="#000" stroke-width="6" stroke-linejoin="round" stroke-linecap="round" />
<path d="M2397.0,1512.0 L2420.0,1565.0 L2407.0,1578.0 L2390.0,1540.0Z" fill="#bcbdc0" stroke="#000" stroke-width="6" stroke-linejoin="round" stroke-linecap="round" />
<path d="M2497.0,1895.0 C2507.0,1875.3 2536.8,1829.2 2560.0,1790.0 C2583.2,1750.8 2622.0,1683.0 2636.0,1660.0 C2650.0,1637.0 2642.0,1648.7 2644.0,1652.0 C2646.0,1655.3 2646.7,1671.7 2648.0,1680.0 C2649.3,1688.3 2663.3,1682.0 2652.0,1702.0 C2640.7,1722.0 2603.3,1766.3 2580.0,1800.0 C2556.7,1833.7 2525.3,1886.0 2512.0,1904.0 C2498.7,1922.0 2502.5,1909.5 2500.0,1908.0 C2497.5,1906.5 2487.0,1914.7 2497.0,1895.0Z" fill="#bcbdc0" stroke="#000" stroke-width="6" stroke-linejoin="round" stroke-linecap="round" />
<path d="M2486.0,1998.0 L2612.0,1856.0 L2618.0,1858.0 L2635.0,1952.0 L2517.0,2146.0 L2508.0,2140.0 L2500.0,2060.0Z" fill="#bcbdc0" stroke="#000" stroke-width="6" stroke-linejoin="round" stroke-linecap="round" />
<path d="M1812.0,1952.0 L1854.0,2061.0 L1850.0,2210.0 L1815.0,2080.0Z" fill="#bcbdc0" stroke="#000" stroke-width="6" stroke-linejoin="round" stroke-linecap="round" />
<path d="M1822.0,1840.0 L1843.0,1915.0 L1832.0,1920.0 L1822.0,1880.0Z" fill="#bcbdc0" stroke="#000" stroke-width="6" stroke-linejoin="round" stroke-linecap="round" />
<path d="M1806.0,2212.0 C1806.7,2223.2 1802.0,2248.0 1810.0,2279.0 C1818.0,2310.0 1836.3,2355.7 1854.0,2398.0 C1871.7,2440.3 1897.2,2497.5 1916.0,2533.0 C1934.8,2568.5 1949.8,2593.0 1967.0,2611.0 C1984.2,2629.0 2001.7,2637.7 2019.0,2641.0 C2036.3,2644.3 2054.7,2637.8 2071.0,2631.0 C2087.3,2624.2 2105.8,2612.8 2117.0,2600.0 C2128.2,2587.2 2133.2,2571.7 2138.0,2554.0 C2142.8,2536.3 2144.7,2504.0 2146.0,2494.0L2146.0,2494.0 C2143.8,2493.2 2147.2,2493.3 2133.0,2489.0 C2118.8,2484.7 2085.2,2477.0 2061.0,2468.0 C2036.8,2459.0 2010.5,2449.2 1988.0,2435.0 C1965.5,2420.8 1944.2,2402.0 1926.0,2383.0 C1907.8,2364.0 1891.0,2341.7 1879.0,2321.0 C1867.0,2300.3 1860.8,2275.0 1854.0,2259.0 C1847.2,2243.0 1840.7,2230.7 1838.0,2225.0" fill="none" stroke="#000" stroke-width="22" stroke-linejoin="miter" stroke-miterlimit="6"/>
<path d="M1806.0,2212.0 C1806.7,2223.2 1802.0,2248.0 1810.0,2279.0 C1818.0,2310.0 1836.3,2355.7 1854.0,2398.0 C1871.7,2440.3 1897.2,2497.5 1916.0,2533.0 C1934.8,2568.5 1949.8,2593.0 1967.0,2611.0 C1984.2,2629.0 2001.7,2637.7 2019.0,2641.0 C2036.3,2644.3 2054.7,2637.8 2071.0,2631.0 C2087.3,2624.2 2105.8,2612.8 2117.0,2600.0 C2128.2,2587.2 2133.2,2571.7 2138.0,2554.0 C2142.8,2536.3 2144.7,2504.0 2146.0,2494.0L2146.0,2494.0 C2143.8,2493.2 2147.2,2493.3 2133.0,2489.0 C2118.8,2484.7 2085.2,2477.0 2061.0,2468.0 C2036.8,2459.0 2010.5,2449.2 1988.0,2435.0 C1965.5,2420.8 1944.2,2402.0 1926.0,2383.0 C1907.8,2364.0 1891.0,2341.7 1879.0,2321.0 C1867.0,2300.3 1860.8,2275.0 1854.0,2259.0 C1847.2,2243.0 1840.7,2230.7 1838.0,2225.0" fill="none" stroke="#a7a9ac" stroke-width="12" stroke-linejoin="miter" stroke-miterlimit="6"/>
<path d="M2583.0,2194.0 L2539.0,2215.0L2539.0,2215.0 C2532.7,2227.5 2517.8,2264.7 2501.0,2290.0 C2484.2,2315.3 2459.7,2346.3 2438.0,2367.0 C2416.3,2387.7 2390.8,2402.3 2371.0,2414.0 C2351.2,2425.7 2327.7,2433.2 2319.0,2437.0L2319.0,2437.0 C2322.5,2447.8 2329.7,2478.2 2340.0,2502.0 C2350.3,2525.8 2366.3,2560.2 2381.0,2580.0 C2395.7,2599.8 2411.2,2610.3 2428.0,2621.0 C2444.8,2631.7 2473.0,2640.2 2482.0,2644.0L2482.0,2644.0 L2557.0,2629.0L2557.0,2629.0 C2562.3,2611.3 2577.7,2568.3 2589.0,2523.0 C2600.3,2477.7 2616.8,2401.8 2625.0,2357.0 C2633.2,2312.2 2638.5,2284.2 2638.0,2254.0 C2637.5,2223.8 2624.7,2189.0 2622.0,2176.0L2622.0,2176.0 L2599.0,2186.0" fill="none" stroke="#000" stroke-width="22" stroke-linejoin="miter" stroke-miterlimit="6"/>
<path d="M2583.0,2194.0 L2539.0,2215.0L2539.0,2215.0 C2532.7,2227.5 2517.8,2264.7 2501.0,2290.0 C2484.2,2315.3 2459.7,2346.3 2438.0,2367.0 C2416.3,2387.7 2390.8,2402.3 2371.0,2414.0 C2351.2,2425.7 2327.7,2433.2 2319.0,2437.0L2319.0,2437.0 C2322.5,2447.8 2329.7,2478.2 2340.0,2502.0 C2350.3,2525.8 2366.3,2560.2 2381.0,2580.0 C2395.7,2599.8 2411.2,2610.3 2428.0,2621.0 C2444.8,2631.7 2473.0,2640.2 2482.0,2644.0L2482.0,2644.0 L2557.0,2629.0L2557.0,2629.0 C2562.3,2611.3 2577.7,2568.3 2589.0,2523.0 C2600.3,2477.7 2616.8,2401.8 2625.0,2357.0 C2633.2,2312.2 2638.5,2284.2 2638.0,2254.0 C2637.5,2223.8 2624.7,2189.0 2622.0,2176.0L2622.0,2176.0 L2599.0,2186.0" fill="none" stroke="#a7a9ac" stroke-width="12" stroke-linejoin="miter" stroke-miterlimit="6"/>
<path d="M2037.0,518.0 C2039.0,517.0 2043.8,516.2 2049.0,512.0 C2054.2,507.8 2062.8,499.8 2068.0,493.0 C2073.2,486.2 2075.3,477.2 2080.0,471.0 C2084.7,464.8 2089.8,459.0 2096.0,456.0 C2102.2,453.0 2091.3,453.5 2117.0,453.0 C2142.7,452.5 2203.3,452.8 2250.0,453.0 C2296.7,453.2 2368.3,452.7 2397.0,454.0 C2425.7,455.3 2413.7,456.5 2422.0,461.0 C2430.3,465.5 2438.8,472.3 2447.0,481.0 C2455.2,489.7 2462.2,505.8 2471.0,513.0 C2479.8,520.2 2487.2,520.0 2500.0,524.0 C2512.8,528.0 2540.0,534.8 2548.0,537.0" fill="none" stroke="#000" stroke-width="6" stroke-linejoin="round" stroke-linecap="round" />
<path d="M2128.0,456.0 L2117.0,502.0" fill="none" stroke="#000" stroke-width="6" stroke-linejoin="round" stroke-linecap="round" />
<path d="M2077.0,481.0 L2124.0,475.0" fill="none" stroke="#000" stroke-width="6" stroke-linejoin="round" stroke-linecap="round" />
<path d="M2400.0,456.0 L2391.0,515.0" fill="none" stroke="#000" stroke-width="6" stroke-linejoin="round" stroke-linecap="round" />
<path d="M2402.0,484.0 L2471.0,513.0" fill="none" stroke="#000" stroke-width="6" stroke-linejoin="round" stroke-linecap="round" />
<path d="M2037.0,518.0 C2027.8,521.2 2010.5,527.0 1982.0,537.0 C1953.5,547.0 1901.5,568.7 1866.0,578.0 C1830.5,587.3 1791.7,588.5 1769.0,593.0 C1746.3,597.5 1740.3,599.8 1730.0,605.0 C1719.7,610.2 1715.5,612.3 1707.0,624.0 C1698.5,635.7 1701.0,622.0 1679.0,675.0 C1657.0,728.0 1611.2,846.2 1575.0,942.0 C1538.8,1037.8 1485.8,1185.0 1462.0,1250.0 C1438.2,1315.0 1437.0,1318.3 1432.0,1332.0" fill="none" stroke="#000" stroke-width="6" stroke-linejoin="round" stroke-linecap="round" />
<path d="M2471.0,511.0 C2483.8,515.3 2504.8,527.0 2548.0,537.0 C2591.2,547.0 2688.5,563.7 2730.0,571.0 C2771.5,578.3 2779.8,576.7 2797.0,581.0 C2814.2,585.3 2821.0,590.5 2833.0,597.0 C2845.0,603.5 2858.7,609.7 2869.0,620.0 C2879.3,630.3 2886.3,642.2 2895.0,659.0 C2903.7,675.8 2912.3,698.7 2921.0,721.0 C2929.7,743.3 2930.7,739.5 2947.0,793.0 C2963.3,846.5 3000.2,974.2 3019.0,1042.0 C3037.8,1109.8 3044.2,1132.3 3060.0,1200.0 C3075.8,1267.7 3096.0,1365.2 3114.0,1448.0 C3132.0,1530.8 3157.0,1628.7 3168.0,1697.0 C3179.0,1765.3 3178.7,1824.8 3180.0,1858.0 C3181.3,1891.2 3180.2,1883.5 3176.0,1896.0 C3171.8,1908.5 3166.0,1922.7 3155.0,1933.0 C3144.0,1943.3 3126.5,1953.8 3110.0,1958.0 C3093.5,1962.2 3071.0,1960.2 3056.0,1958.0 C3041.0,1955.8 3029.7,1950.5 3020.0,1945.0 C3010.3,1939.5 3004.7,1933.3 2998.0,1925.0 C2991.3,1916.7 2983.0,1900.0 2980.0,1895.0L2980.0,1895.0 L2803.0,1382.0 L2688.0,1088.0" fill="none" stroke="#000" stroke-width="6" stroke-linejoin="round" stroke-linecap="round" />
<path d="M2450.0,537.0 C2457.5,542.2 2480.3,558.3 2495.0,568.0 C2509.7,577.7 2523.5,587.8 2538.0,595.0 C2552.5,602.2 2567.5,605.8 2582.0,611.0 C2596.5,616.2 2612.3,620.5 2625.0,626.0 C2637.7,631.5 2652.5,641.0 2658.0,644.0" fill="none" stroke="#000" stroke-width="6" stroke-linejoin="round" stroke-linecap="round" />
<path d="M1718.0,614.0 C1721.3,620.8 1732.5,640.3 1738.0,655.0 C1743.5,669.7 1748.8,694.2 1751.0,702.0" fill="none" stroke="#000" stroke-width="6" stroke-linejoin="round" stroke-linecap="round" />
<path d="M1576.0,942.0 C1582.8,944.7 1602.3,950.0 1617.0,958.0 C1631.7,966.0 1656.2,984.7 1664.0,990.0" fill="none" stroke="#000" stroke-width="6" stroke-linejoin="round" stroke-linecap="round" />
<path d="M1434.0,1332.0 L1468.0,1237.0 L1555.0,1279.0 L1732.0,1347.0" fill="none" stroke="#000" stroke-width="6" stroke-linejoin="round" stroke-linecap="round" />
<path d="M1554.0,1280.0 L1662.0,985.0 L1714.0,866.0" fill="none" stroke="#000" stroke-width="6" stroke-linejoin="round" stroke-linecap="round" />
<path d="M1642.0,1317.0 C1641.5,1320.2 1641.2,1327.2 1639.0,1336.0 C1636.8,1344.8 1633.8,1360.7 1629.0,1370.0 C1624.2,1379.3 1617.2,1386.5 1610.0,1392.0 C1602.8,1397.5 1594.7,1400.5 1586.0,1403.0 C1577.3,1405.5 1562.7,1406.3 1558.0,1407.0" fill="none" stroke="#000" stroke-width="6" stroke-linejoin="round" stroke-linecap="round" />
<path d="M1591.0,1400.0 C1597.8,1408.5 1621.8,1434.2 1632.0,1451.0 C1642.2,1467.8 1647.5,1484.2 1652.0,1501.0 C1656.5,1517.8 1656.2,1535.2 1659.0,1552.0 C1661.8,1568.8 1663.5,1585.2 1669.0,1602.0 C1674.5,1618.8 1685.8,1636.2 1692.0,1653.0 C1698.2,1669.8 1704.3,1683.5 1706.0,1703.0 C1707.7,1722.5 1706.5,1750.3 1702.0,1770.0 C1697.5,1789.7 1689.7,1805.8 1679.0,1821.0 C1668.3,1836.2 1652.7,1852.0 1638.0,1861.0 C1623.3,1870.0 1600.5,1873.0 1591.0,1875.0 C1581.5,1877.0 1582.7,1873.3 1581.0,1873.0" fill="none" stroke="#000" stroke-width="6" stroke-linejoin="round" stroke-linecap="round" />
<path d="M1741.0,1100.0 C1748.3,1120.7 1787.0,1182.3 1785.0,1224.0 C1783.0,1265.7 1744.5,1310.5 1729.0,1350.0 C1713.5,1389.5 1698.7,1435.8 1692.0,1461.0 C1685.3,1486.2 1686.7,1477.5 1689.0,1501.0 C1691.3,1524.5 1696.5,1564.7 1706.0,1602.0 C1715.5,1639.3 1732.7,1684.0 1746.0,1725.0 C1759.3,1766.0 1779.3,1827.5 1786.0,1848.0L1786.0,1848.0 C1786.7,1850.8 1790.5,1856.0 1790.0,1865.0 C1789.5,1874.0 1790.3,1888.0 1783.0,1902.0 C1775.7,1916.0 1761.2,1937.8 1746.0,1949.0 C1730.8,1960.2 1708.3,1966.8 1692.0,1969.0 C1675.7,1971.2 1658.7,1966.0 1648.0,1962.0 C1637.3,1958.0 1631.3,1947.8 1628.0,1945.0L1628.0,1945.0 L1500.0,1754.0" fill="none" stroke="#000" stroke-width="6" stroke-linejoin="round" stroke-linecap="round" />
<path d="M1628.0,1945.0 C1637.5,1942.3 1666.5,1934.5 1685.0,1929.0 C1703.5,1923.5 1722.2,1924.3 1739.0,1912.0 C1755.8,1899.7 1778.2,1864.5 1786.0,1855.0" fill="none" stroke="#000" stroke-width="6" stroke-linejoin="round" stroke-linecap="round" />
<path d="M1766.0,1135.0 C1771.2,1143.7 1785.8,1178.3 1797.0,1187.0 C1808.2,1195.7 1824.3,1193.2 1833.0,1187.0 C1841.7,1180.8 1842.8,1164.5 1849.0,1150.0 C1855.2,1135.5 1866.5,1108.3 1870.0,1100.0" fill="none" stroke="#000" stroke-width="6" stroke-linejoin="round" stroke-linecap="round" />
<path d="M2471.0,1166.0 C2474.5,1170.3 2480.0,1189.3 2492.0,1192.0 C2504.0,1194.7 2531.8,1189.8 2543.0,1182.0 C2554.2,1174.2 2551.2,1164.0 2559.0,1145.0 C2566.8,1126.0 2576.7,1089.2 2590.0,1068.0 C2603.3,1046.8 2630.8,1026.3 2639.0,1018.0" fill="none" stroke="#000" stroke-width="6" stroke-linejoin="round" stroke-linecap="round" />
<path d="M2799.0,628.0 C2791.7,649.5 2769.2,702.7 2755.0,757.0 C2740.8,811.3 2725.2,898.8 2714.0,954.0 C2702.8,1009.2 2695.8,1051.0 2688.0,1088.0 C2680.2,1125.0 2672.2,1144.0 2667.0,1176.0 C2661.8,1208.0 2661.2,1242.7 2657.0,1280.0 C2652.8,1317.3 2644.8,1361.3 2642.0,1400.0 C2639.2,1438.7 2639.2,1468.8 2640.0,1512.0 C2640.8,1555.2 2639.3,1597.8 2647.0,1659.0 C2654.7,1720.2 2679.5,1842.3 2686.0,1879.0" fill="none" stroke="#000" stroke-width="6" stroke-linejoin="round" stroke-linecap="round" />
<path d="M2911.0,1034.0 C2920.5,1034.0 2950.0,1032.7 2968.0,1034.0 C2986.0,1035.3 3010.5,1040.7 3019.0,1042.0" fill="none" stroke="#000" stroke-width="6" stroke-linejoin="round" stroke-linecap="round" />
<path d="M2812.0,1386.0 L3095.0,1349.0" fill="none" stroke="#000" stroke-width="6" stroke-linejoin="round" stroke-linecap="round" />
<path d="M2957.0,1200.0 C2961.7,1221.7 2975.3,1287.2 2985.0,1330.0 C2994.7,1372.8 3007.3,1426.2 3015.0,1457.0 C3022.7,1487.8 3020.0,1475.0 3031.0,1515.0 C3042.0,1555.0 3067.8,1623.2 3081.0,1697.0 C3094.2,1770.8 3105.2,1914.5 3110.0,1958.0" fill="none" stroke="#000" stroke-width="6" stroke-linejoin="round" stroke-linecap="round" />
<path d="M2973.0,1900.0 C2989.7,1900.0 3038.5,1907.0 3073.0,1900.0 C3107.5,1893.0 3162.2,1865.0 3180.0,1858.0" fill="none" stroke="#000" stroke-width="6" stroke-linejoin="round" stroke-linecap="round" />
<path d="M2234.0,2382.0 C2220.8,2382.3 2188.8,2387.0 2155.0,2384.0 C2121.2,2381.0 2068.2,2379.2 2031.0,2364.0 C1993.8,2348.8 1955.5,2322.0 1932.0,2293.0 C1908.5,2264.0 1897.3,2221.0 1890.0,2190.0 C1882.7,2159.0 1885.2,2127.7 1888.0,2107.0 C1890.8,2086.3 1899.7,2073.7 1907.0,2066.0 C1914.3,2058.3 1890.7,2060.3 1932.0,2061.0 C1973.3,2061.7 2076.3,2071.7 2155.0,2070.0 C2233.7,2068.3 2356.3,2053.2 2404.0,2051.0 C2451.7,2048.8 2431.7,2049.7 2441.0,2057.0 C2450.3,2064.3 2456.8,2076.3 2460.0,2095.0 C2463.2,2113.7 2463.8,2141.5 2460.0,2169.0 C2456.2,2196.5 2453.3,2234.5 2437.0,2260.0 C2420.7,2285.5 2389.7,2302.0 2362.0,2322.0 C2334.3,2342.0 2291.5,2374.3 2271.0,2380.0 C2250.5,2385.7 2244.3,2360.0 2239.0,2356.0" fill="none" stroke="#000" stroke-width="6" stroke-linejoin="round" stroke-linecap="round" />
<path d="M2157.0,1980.0 C2156.0,1995.5 2150.7,2044.7 2151.0,2073.0 C2151.3,2101.3 2154.2,2124.2 2159.0,2150.0 C2163.8,2175.8 2170.5,2202.2 2180.0,2228.0 C2189.5,2253.8 2206.2,2283.5 2216.0,2305.0 C2225.8,2326.5 2235.2,2348.3 2239.0,2357.0" fill="none" stroke="#000" stroke-width="6" stroke-linejoin="round" stroke-linecap="round" />
<path d="M2075.0,2250.0 C2074.7,2247.0 2071.3,2237.5 2073.0,2232.0 C2074.7,2226.5 2059.5,2222.3 2085.0,2217.0 C2110.5,2211.7 2198.5,2201.7 2226.0,2200.0 C2253.5,2198.3 2243.0,2202.8 2250.0,2207.0 C2257.0,2211.2 2263.8,2217.8 2268.0,2225.0 C2272.2,2232.2 2275.2,2231.7 2275.0,2250.0 C2274.8,2268.3 2270.3,2318.3 2267.0,2335.0 C2263.7,2351.7 2259.8,2346.7 2255.0,2350.0 C2250.2,2353.3 2244.2,2354.5 2238.0,2355.0 C2231.8,2355.5 2231.8,2358.5 2218.0,2353.0 C2204.2,2347.5 2178.8,2339.2 2155.0,2322.0 C2131.2,2304.8 2088.3,2262.0 2075.0,2250.0" fill="none" stroke="#000" stroke-width="6" stroke-linejoin="round" stroke-linecap="round" />
<path d="M2090.0,2240.0 C2090.8,2237.0 2078.3,2226.7 2095.0,2222.0 C2111.7,2217.3 2165.8,2213.7 2190.0,2212.0 C2214.2,2210.3 2228.0,2208.2 2240.0,2212.0 C2252.0,2215.8 2259.0,2216.2 2262.0,2235.0 C2265.0,2253.8 2261.7,2307.5 2258.0,2325.0 C2254.3,2342.5 2247.0,2337.2 2240.0,2340.0 C2233.0,2342.8 2234.3,2349.5 2216.0,2342.0 C2197.7,2334.5 2151.0,2312.0 2130.0,2295.0 C2109.0,2278.0 2096.7,2249.2 2090.0,2240.0" fill="none" stroke="#000" stroke-width="1.6" stroke-dasharray="6 5"/>
<path d="M1963.0,566.0 C1954.3,572.8 1926.7,594.2 1911.0,607.0 C1895.3,619.8 1884.5,622.3 1869.0,643.0 C1853.5,663.7 1830.0,702.5 1818.0,731.0 C1806.0,759.5 1802.7,782.8 1797.0,814.0 C1791.3,845.2 1786.7,874.8 1784.0,918.0 C1781.3,961.2 1778.8,1032.5 1781.0,1073.0 C1783.2,1113.5 1790.0,1144.7 1797.0,1161.0 C1804.0,1177.3 1815.3,1172.8 1823.0,1171.0 C1830.7,1169.2 1837.0,1159.5 1843.0,1150.0 C1849.0,1140.5 1856.3,1120.0 1859.0,1114.0" fill="none" stroke="#000" stroke-width="1.5" stroke-dasharray="6 5"/>
<path d="M1957.4,558.9 C1948.7,565.8 1921.2,586.9 1905.3,600.0 C1889.4,613.1 1877.7,616.4 1861.8,637.6 C1845.9,658.8 1822.0,698.4 1809.7,727.5 C1797.4,756.6 1793.9,780.7 1788.1,812.4 C1782.4,844.0 1777.7,873.9 1775.0,917.4 C1772.3,961.0 1769.7,1032.3 1772.0,1073.5 C1774.3,1114.7 1779.9,1146.8 1788.7,1164.5 C1797.6,1182.3 1814.8,1181.4 1825.1,1179.8 C1835.4,1178.1 1843.6,1165.2 1850.6,1154.8 C1857.6,1144.5 1864.5,1123.8 1867.2,1117.7" fill="none" stroke="#000" stroke-width="1.5" stroke-dasharray="6 5"/>
<path d="M1582.0,962.0 C1594.5,968.8 1644.5,996.2 1657.0,1003.0" fill="none" stroke="#000" stroke-width="1.5" stroke-dasharray="6 5"/>
<path d="M1587.8,951.5 C1600.3,958.3 1650.3,985.6 1662.8,992.5" fill="none" stroke="#000" stroke-width="1.5" stroke-dasharray="6 5"/>
<path d="M1476.0,1218.0 C1489.8,1223.2 1545.2,1243.8 1559.0,1249.0" fill="none" stroke="#000" stroke-width="1.5" stroke-dasharray="6 5"/>
<path d="M1561.0,1266.0 C1571.8,1269.3 1597.0,1276.3 1626.0,1286.0 C1655.0,1295.7 1716.8,1317.7 1735.0,1324.0" fill="none" stroke="#000" stroke-width="1.5" stroke-dasharray="6 5"/>
<path d="M1658.3,1321.8 C1655.7,1330.9 1650.1,1361.9 1642.9,1376.4 C1635.6,1390.9 1623.2,1401.9 1614.9,1408.9 C1606.6,1415.8 1602.7,1415.9 1593.0,1418.3 C1583.3,1420.6 1562.9,1422.3 1556.9,1423.1" fill="none" stroke="#000" stroke-width="1.5" stroke-dasharray="6 5"/>
<path d="M1648.7,1319.1 C1646.2,1327.9 1640.6,1358.2 1633.9,1371.9 C1627.2,1385.6 1615.7,1395.1 1608.5,1401.2 C1601.2,1407.3 1599.3,1406.6 1590.5,1408.6 C1581.7,1410.6 1561.4,1412.4 1555.6,1413.2" fill="none" stroke="#000" stroke-width="1.5" stroke-dasharray="6 5"/>
<path d="M2455.0,537.0 C2472.3,546.5 2533.0,582.3 2559.0,594.0 C2585.0,605.7 2593.8,601.3 2611.0,607.0 C2628.2,612.7 2644.8,617.7 2662.0,628.0 C2679.2,638.3 2699.3,651.8 2714.0,669.0 C2728.7,686.2 2744.0,720.7 2750.0,731.0" fill="none" stroke="#000" stroke-width="1.5" stroke-dasharray="6 5"/>
<path d="M2450.7,544.9 C2468.1,554.4 2529.1,590.4 2555.3,602.2 C2581.6,614.0 2591.2,610.0 2608.2,615.5 C2625.2,621.1 2640.9,625.8 2657.4,635.7 C2673.9,645.6 2693.0,658.2 2707.2,674.8 C2721.3,691.5 2736.4,725.4 2742.2,735.5" fill="none" stroke="#000" stroke-width="1.5" stroke-dasharray="6 5"/>
<path d="M2621.0,628.0 C2618.3,650.3 2608.5,713.7 2605.0,762.0 C2601.5,810.3 2597.3,874.8 2600.0,918.0 C2602.7,961.2 2610.7,992.7 2621.0,1021.0 C2631.3,1049.3 2655.2,1076.8 2662.0,1088.0" fill="none" stroke="#000" stroke-width="1.5" stroke-dasharray="6 5"/>
<path d="M2630.9,629.2 C2628.3,651.4 2618.5,714.7 2615.0,762.7 C2611.5,810.8 2607.4,874.9 2610.0,917.4 C2612.6,959.9 2620.3,990.0 2630.4,1017.6 C2640.5,1045.1 2663.8,1071.9 2670.5,1082.8" fill="none" stroke="#000" stroke-width="1.5" stroke-dasharray="6 5"/>
<path d="M2476.0,1145.0 C2481.2,1150.2 2495.8,1171.7 2507.0,1176.0 C2518.2,1180.3 2531.8,1189.0 2543.0,1171.0 C2554.2,1153.0 2561.0,1093.8 2574.0,1068.0 C2587.0,1042.2 2613.2,1024.7 2621.0,1016.0" fill="none" stroke="#000" stroke-width="1.5" stroke-dasharray="6 5"/>
<path d="M2766.0,752.0 C2774.7,756.3 2800.8,763.3 2818.0,778.0 C2835.2,792.7 2853.5,812.5 2869.0,840.0 C2884.5,867.5 2901.5,908.5 2911.0,943.0 C2920.5,977.5 2923.5,1029.7 2926.0,1047.0" fill="none" stroke="#000" stroke-width="1.5" stroke-dasharray="6 5"/>
<path d="M2916.0,1047.0 C2924.7,1046.8 2950.8,1044.7 2968.0,1046.0 C2985.2,1047.3 3010.5,1053.5 3019.0,1055.0" fill="none" stroke="#000" stroke-width="1.5" stroke-dasharray="6 5"/>
<path d="M2812.0,1370.0 C2843.3,1366.3 2968.7,1351.7 3000.0,1348.0" fill="none" stroke="#000" stroke-width="1.5" stroke-dasharray="6 5"/>
<path d="M2862.0,1386.0 C2862.7,1391.7 2863.0,1408.0 2866.0,1420.0 C2869.0,1432.0 2873.5,1447.8 2880.0,1458.0 C2886.5,1468.2 2896.7,1476.5 2905.0,1481.0 C2913.3,1485.5 2904.7,1487.3 2930.0,1485.0 C2955.3,1482.7 3031.2,1472.0 3057.0,1467.0 C3082.8,1462.0 3079.0,1462.7 3085.0,1455.0 C3091.0,1447.3 3092.2,1433.0 3093.0,1421.0 C3093.8,1409.0 3091.3,1394.5 3090.0,1383.0 C3088.7,1371.5 3085.8,1357.2 3085.0,1352.0" fill="none" stroke="#000" stroke-width="1.5" stroke-dasharray="6 5"/>
<path d="M2852.1,1387.2 C2852.8,1393.0 2853.0,1409.7 2856.3,1422.4 C2859.5,1435.1 2864.2,1452.2 2871.6,1463.4 C2878.9,1474.6 2890.4,1484.5 2900.2,1489.8 C2910.1,1495.1 2904.5,1497.1 2930.9,1495.0 C2957.4,1492.8 3031.9,1482.5 3058.9,1476.8 C3085.9,1471.2 3085.5,1470.4 3092.9,1461.2 C3100.2,1452.0 3101.8,1434.9 3103.0,1421.7 C3104.2,1408.5 3101.3,1393.7 3099.9,1381.8 C3098.6,1370.0 3095.7,1355.6 3094.9,1350.4" fill="none" stroke="#000" stroke-width="1.5" stroke-dasharray="6 5"/>
<path d="M2972.0,1240.0 C2976.7,1260.0 2990.3,1323.8 3000.0,1360.0 C3009.7,1396.2 3022.3,1431.2 3030.0,1457.0 C3037.7,1482.8 3035.0,1475.0 3046.0,1515.0 C3057.0,1555.0 3083.3,1624.5 3096.0,1697.0 C3108.7,1769.5 3117.7,1907.8 3122.0,1950.0" fill="none" stroke="#000" stroke-width="1.5" stroke-dasharray="6 5"/>
<path d="M2965.0,1871.0 C2983.0,1871.7 3037.8,1881.8 3073.0,1875.0 C3108.2,1868.2 3158.8,1837.5 3176.0,1830.0" fill="none" stroke="#000" stroke-width="1.5" stroke-dasharray="6 5"/>
<path d="M2964.7,1879.0 C2983.0,1879.6 3038.8,1889.8 3074.5,1882.9 C3110.3,1875.9 3161.8,1844.9 3179.2,1837.3" fill="none" stroke="#000" stroke-width="1.5" stroke-dasharray="6 5"/>
<path d="M2673.0,1943.0 C2672.5,1967.2 2666.7,2046.5 2670.0,2088.0 C2673.3,2129.5 2685.7,2140.0 2693.0,2192.0 C2700.3,2244.0 2706.5,2303.7 2714.0,2400.0 C2721.5,2496.3 2734.0,2708.3 2738.0,2770.0" fill="none" stroke="#000" stroke-width="1.5" stroke-dasharray="6 5"/>
<path d="M1822.0,1800.0 C1827.3,1811.7 1835.8,1845.7 1854.0,1870.0 C1872.2,1894.3 1900.8,1926.0 1931.0,1946.0 C1961.2,1966.0 2000.5,1981.0 2035.0,1990.0 C2069.5,1999.0 2099.2,2000.8 2138.0,2000.0 C2176.8,1999.2 2224.8,1998.8 2268.0,1985.0 C2311.2,1971.2 2354.0,1949.0 2397.0,1917.0 C2440.0,1885.0 2487.2,1846.5 2526.0,1793.0 C2564.8,1739.5 2610.2,1678.2 2630.0,1596.0 C2649.8,1513.8 2642.5,1349.3 2645.0,1300.0" fill="none" stroke="#000" stroke-width="1.5" stroke-dasharray="6 5"/>
<path d="M1809.3,1805.8 C1814.9,1817.9 1823.8,1853.1 1842.8,1878.4 C1861.8,1903.7 1891.8,1936.8 1923.3,1957.7 C1954.7,1978.5 1995.6,1994.2 2031.5,2003.5 C2067.3,2012.9 2098.2,2014.9 2138.3,2014.0 C2178.4,2013.1 2227.8,2012.6 2272.3,1998.3 C2316.8,1984.0 2361.2,1961.1 2405.4,1928.2 C2449.5,1895.4 2497.6,1856.0 2537.3,1801.2 C2577.0,1746.4 2623.3,1682.7 2643.6,1599.3 C2663.9,1515.9 2656.4,1350.5 2659.0,1300.7" fill="none" stroke="#000" stroke-width="1.5" stroke-dasharray="6 5"/>
<path d="M1835.0,1435.0 C1841.5,1450.8 1850.2,1500.0 1874.0,1530.0 C1897.8,1560.0 1960.7,1600.8 1978.0,1615.0" fill="none" stroke="#000" stroke-width="1.5" stroke-dasharray="6 5"/>
<path d="M2418.0,1543.0 C2436.0,1531.0 2489.0,1517.5 2526.0,1471.0 C2563.0,1424.5 2621.0,1298.5 2640.0,1264.0" fill="none" stroke="#000" stroke-width="1.5" stroke-dasharray="6 5"/>
<path d="M2423.5,1551.3 C2441.9,1539.0 2496.3,1524.3 2533.8,1477.2 C2571.4,1430.1 2629.6,1303.6 2648.8,1268.8" fill="none" stroke="#000" stroke-width="1.5" stroke-dasharray="6 5"/>
<path d="M1618.0,1919.0 C1629.2,1916.7 1662.5,1913.5 1685.0,1905.0 C1707.5,1896.5 1738.3,1880.3 1753.0,1868.0 C1767.7,1855.7 1769.7,1837.2 1773.0,1831.0" fill="none" stroke="#000" stroke-width="1.5" stroke-dasharray="6 5"/>
<path d="M1619.8,1927.8 C1631.2,1925.4 1665.0,1922.2 1688.2,1913.4 C1711.3,1904.6 1743.3,1887.9 1758.8,1874.9 C1774.2,1861.9 1777.2,1841.9 1780.9,1835.3" fill="none" stroke="#000" stroke-width="1.5" stroke-dasharray="6 5"/>
<path d="M2234.0,2400.0 C2220.8,2400.3 2189.8,2405.3 2155.0,2402.0 C2120.2,2398.7 2064.7,2396.2 2025.0,2380.0 C1985.3,2363.8 1942.5,2336.7 1917.0,2305.0 C1891.5,2273.3 1879.8,2223.0 1872.0,2190.0 C1864.2,2157.0 1867.0,2129.5 1870.0,2107.0 C1873.0,2084.5 1879.7,2065.7 1890.0,2055.0 C1900.3,2044.3 1887.8,2043.5 1932.0,2043.0 C1976.2,2042.5 2076.3,2053.7 2155.0,2052.0 C2233.7,2050.3 2354.8,2035.0 2404.0,2033.0 C2453.2,2031.0 2437.8,2030.5 2450.0,2040.0 C2462.2,2049.5 2472.3,2068.5 2477.0,2090.0 C2481.7,2111.5 2482.0,2139.3 2478.0,2169.0 C2474.0,2198.7 2470.7,2240.0 2453.0,2268.0 C2435.3,2296.0 2399.2,2316.7 2372.0,2337.0 C2344.8,2357.3 2303.7,2381.2 2290.0,2390.0" fill="none" stroke="#000" stroke-width="1.5" stroke-dasharray="6 5"/>
<path d="M2147.0,1990.0 C2146.0,2003.8 2140.7,2046.3 2141.0,2073.0 C2141.3,2099.7 2144.2,2124.2 2149.0,2150.0 C2153.8,2175.8 2160.5,2202.2 2170.0,2228.0 C2179.5,2253.8 2200.0,2292.2 2206.0,2305.0" fill="none" stroke="#000" stroke-width="1.5" stroke-dasharray="6 5"/>
<path d="M2167.0,1990.0 C2166.0,2003.8 2160.7,2046.3 2161.0,2073.0 C2161.3,2099.7 2164.2,2124.2 2169.0,2150.0 C2173.8,2175.8 2180.5,2202.2 2190.0,2228.0 C2199.5,2253.8 2220.0,2292.2 2226.0,2305.0" fill="none" stroke="#000" stroke-width="1.5" stroke-dasharray="6 5"/>
<path d="M1875.0,2822.0 C1880.8,2828.3 1899.7,2842.0 1910.0,2860.0 C1920.3,2878.0 1931.3,2866.3 1937.0,2930.0 C1942.7,2993.7 1944.0,3113.7 1944.0,3242.0 C1944.0,3370.3 1940.0,3594.7 1937.0,3700.0 C1934.0,3805.3 1927.8,3845.0 1926.0,3874.0" fill="none" stroke="#000" stroke-width="1.5" stroke-dasharray="6 5"/>
<path d="M1882.4,2815.2 C1888.4,2821.9 1907.9,2836.0 1918.7,2855.0 C1929.4,2874.0 1941.1,2864.6 1947.0,2929.1 C1952.8,2993.6 1954.0,3113.5 1954.0,3242.0 C1954.0,3370.5 1950.0,3594.8 1947.0,3700.3 C1944.0,3805.7 1937.8,3845.6 1936.0,3874.6" fill="none" stroke="#000" stroke-width="1.5" stroke-dasharray="6 5"/>
<path d="M1868.0,2780.0 C1895.8,2778.8 1992.5,2783.7 2035.0,2773.0 C2077.5,2762.3 2098.8,2744.0 2123.0,2716.0 C2147.2,2688.0 2168.0,2645.0 2180.0,2605.0 C2192.0,2565.0 2190.8,2505.2 2195.0,2476.0 C2199.2,2446.8 2198.5,2439.3 2205.0,2430.0 C2211.5,2420.7 2229.2,2421.7 2234.0,2420.0" fill="none" stroke="#000" stroke-width="1.5" stroke-dasharray="6 5"/>
<path d="M1867.6,2770.0 C1895.1,2768.9 1991.3,2773.4 2032.6,2763.3 C2073.9,2753.2 2092.5,2736.3 2115.4,2709.5 C2138.4,2682.6 2158.8,2641.3 2170.4,2602.1 C2182.0,2563.0 2180.7,2504.2 2185.1,2474.6 C2189.5,2444.9 2189.2,2435.0 2196.8,2424.3 C2204.4,2413.6 2225.1,2412.8 2230.7,2410.5" fill="none" stroke="#000" stroke-width="1.5" stroke-dasharray="6 5"/>
<path d="M2035.0,2764.0 C2047.0,2783.3 2082.8,2836.5 2107.0,2880.0 C2131.2,2923.5 2161.8,2970.7 2180.0,3025.0 C2198.2,3079.3 2210.0,3175.8 2216.0,3206.0" fill="none" stroke="#000" stroke-width="1.5" stroke-dasharray="6 5"/>
<path d="M2043.5,2758.7 C2055.5,2778.1 2091.4,2831.3 2115.7,2875.1 C2140.1,2919.0 2171.1,2967.0 2189.5,3021.8 C2207.8,3076.6 2219.8,3173.7 2225.8,3204.0" fill="none" stroke="#000" stroke-width="1.5" stroke-dasharray="6 5"/>
<path d="M2484.0,2706.0 C2493.7,2722.8 2528.7,2760.0 2542.0,2807.0 C2555.3,2854.0 2570.0,2921.5 2564.0,2988.0 C2558.0,3054.5 2515.7,3169.7 2506.0,3206.0" fill="none" stroke="#000" stroke-width="1.5" stroke-dasharray="6 5"/>
<path d="M2492.7,2701.0 C2502.5,2718.2 2538.1,2756.3 2551.6,2804.3 C2565.2,2852.3 2580.0,2921.5 2574.0,2988.9 C2568.0,3056.3 2525.4,3172.0 2515.7,3208.6" fill="none" stroke="#000" stroke-width="1.5" stroke-dasharray="6 5"/>
<path d="M2400.0,2645.0 C2411.7,2653.2 2440.3,2677.3 2470.0,2694.0 C2499.7,2710.7 2536.3,2727.3 2578.0,2745.0 C2619.7,2762.7 2666.8,2792.8 2720.0,2800.0 C2773.2,2807.2 2867.5,2790.0 2897.0,2788.0" fill="none" stroke="#000" stroke-width="1.5" stroke-dasharray="6 5"/>
<path d="M2405.7,2636.8 C2417.3,2644.9 2445.5,2668.8 2474.9,2685.3 C2504.3,2701.8 2540.8,2718.3 2581.9,2735.8 C2623.0,2753.3 2668.9,2783.1 2721.3,2790.1 C2773.7,2797.1 2867.2,2780.0 2896.3,2778.0" fill="none" stroke="#000" stroke-width="1.5" stroke-dasharray="6 5"/>
<path d="M2752.0,2790.0 C2729.7,2941.7 2644.0,3506.7 2618.0,3700.0 C2592.0,3893.3 2599.7,3908.3 2596.0,3950.0" fill="none" stroke="#000" stroke-width="1.5" stroke-dasharray="6 5"/>
<path d="M2761.9,2791.5 C2739.6,2943.1 2653.9,3508.1 2627.9,3701.3 C2601.9,3894.6 2609.6,3909.3 2606.0,3950.9" fill="none" stroke="#000" stroke-width="1.5" stroke-dasharray="6 5"/>
<path d="M1803.0,3838.0 C1827.2,3841.5 1902.2,3854.8 1948.0,3859.0 C1993.8,3863.2 2056.3,3862.3 2078.0,3863.0" fill="none" stroke="#000" stroke-width="1.5" stroke-dasharray="6 5"/>
<path d="M1804.4,3828.1 C1828.5,3831.6 1903.3,3844.9 1948.9,3849.0 C1994.6,3853.2 2056.7,3852.3 2078.3,3853.0" fill="none" stroke="#000" stroke-width="1.5" stroke-dasharray="6 5"/>
<path d="M2441.0,3899.0 C2468.7,3905.0 2561.2,3929.0 2607.0,3935.0 C2652.8,3941.0 2697.8,3935.0 2716.0,3935.0" fill="none" stroke="#000" stroke-width="1.5" stroke-dasharray="6 5"/>
<path d="M2443.5,3887.3 C2471.0,3893.2 2563.1,3917.1 2608.6,3923.1 C2654.0,3929.1 2698.1,3923.0 2716.0,3923.0" fill="none" stroke="#000" stroke-width="1.5" stroke-dasharray="6 5"/>
<path d="M2610.0,1875.0 C2612.5,1887.5 2640.0,1909.2 2625.0,1950.0 C2610.0,1990.8 2539.2,2100.8 2520.0,2120.0 C2500.8,2139.2 2513.3,2085.0 2510.0,2065.0 C2506.7,2045.0 2483.3,2031.7 2500.0,2000.0 C2516.7,1968.3 2591.7,1895.8 2610.0,1875.0" fill="none" stroke="#000" stroke-width="1.5" stroke-dasharray="6 5"/>
<path d="M2512.0,1890.0 L2638.0,1675.0 L2644.0,1700.0 L2516.0,1893.0" fill="none" stroke="#000" stroke-width="1.5" stroke-dasharray="6 5"/>
<path d="M1979.0,541.0 C1996.8,536.2 2047.3,519.0 2086.0,512.0 C2124.7,505.0 2169.5,499.8 2211.0,499.0 C2252.5,498.2 2295.2,499.7 2335.0,507.0 C2374.8,514.3 2430.8,537.0 2450.0,543.0L2450.0,543.0 C2448.3,555.3 2448.8,583.8 2440.0,617.0 C2431.2,650.2 2413.0,704.2 2397.0,742.0 C2381.0,779.8 2352.8,827.0 2344.0,844.0L2344.0,844.0 L1992.0,850.0L1992.0,850.0 C1989.2,837.2 1978.7,806.7 1975.0,773.0 C1971.3,739.3 1969.3,686.7 1970.0,648.0 C1970.7,609.3 1977.5,558.8 1979.0,541.0" fill="#92278f" stroke="#000" stroke-width="6" stroke-linejoin="round" stroke-linecap="round" />
<path d="M2032.0,525.0 L2026.0,739.0 L1990.0,852.0L2014.0,848.0 L2051.0,745.0 L2060.0,518.0Z" fill="#1aaba5" stroke="#000" stroke-width="6" stroke-linejoin="round" stroke-linecap="round" />
<path d="M2041.2,522.7 L2034.2,741.0 L1997.9,850.7" fill="none" stroke="#000" stroke-width="1.4" stroke-dasharray="6 5"/>
<path d="M2050.8,520.3 L2042.8,743.0 L2006.1,849.3" fill="none" stroke="#000" stroke-width="1.4" stroke-dasharray="6 5"/>
<path d="M2302.0,503.0 L2265.0,739.0 L2310.0,835.0L2352.0,830.0 L2304.0,729.0 L2336.0,508.0Z" fill="#1aaba5" stroke="#000" stroke-width="6" stroke-linejoin="round" stroke-linecap="round" />
<path d="M2313.2,504.6 L2277.9,735.7 L2323.9,833.3" fill="none" stroke="#000" stroke-width="1.4" stroke-dasharray="6 5"/>
<path d="M2324.8,506.4 L2291.1,732.3 L2338.1,831.6" fill="none" stroke="#000" stroke-width="1.4" stroke-dasharray="6 5"/>
<path d="M1996.0,560.0 C1994.7,583.3 1988.2,660.0 1988.0,700.0 C1987.8,740.0 1993.8,783.3 1995.0,800.0" fill="none" stroke="#000" stroke-width="1.4" stroke-dasharray="6 5"/>
<path d="M2435.0,570.0 C2430.8,591.7 2424.8,659.2 2410.0,700.0 C2395.2,740.8 2356.7,795.8 2346.0,815.0" fill="none" stroke="#000" stroke-width="1.4" stroke-dasharray="6 5"/>
<path d="M2085.0,577.0 C2090.5,577.7 2106.7,581.2 2118.0,581.0 C2129.3,580.8 2139.7,577.3 2153.0,576.0 C2166.3,574.7 2184.3,572.7 2198.0,573.0 C2211.7,573.3 2228.8,577.2 2235.0,578.0L2235.0,578.0 C2230.7,579.0 2218.0,581.5 2209.0,584.0 C2200.0,586.5 2189.5,589.2 2181.0,593.0 C2172.5,596.8 2163.8,601.8 2158.0,607.0 C2152.2,612.2 2148.0,621.2 2146.0,624.0L2146.0,624.0 L2130.0,624.0L2130.0,624.0 C2126.2,622.2 2113.2,617.7 2107.0,613.0 C2100.8,608.3 2096.7,602.0 2093.0,596.0 C2089.3,590.0 2086.3,580.2 2085.0,577.0Z" fill="#2b0f2a" stroke="none" stroke-width="0" stroke-linejoin="round" stroke-linecap="round" />
<path d="M2072.0,599.0 C2074.0,604.2 2078.2,620.2 2084.0,630.0 C2089.8,639.8 2097.5,648.5 2107.0,658.0 C2116.5,667.5 2131.7,677.2 2141.0,687.0 C2150.3,696.8 2159.3,712.0 2163.0,717.0L2163.0,717.0 C2164.3,713.8 2169.8,705.8 2171.0,698.0 C2172.2,690.2 2172.0,677.7 2170.0,670.0 C2168.0,662.3 2163.0,656.7 2159.0,652.0 C2155.0,647.3 2152.8,644.2 2146.0,642.0 C2139.2,639.8 2126.3,642.0 2118.0,639.0 C2109.7,636.0 2103.7,630.7 2096.0,624.0 C2088.3,617.3 2076.0,603.2 2072.0,599.0Z" fill="#2b0f2a" stroke="none" stroke-width="0" stroke-linejoin="round" stroke-linecap="round" />
<path d="M2246.0,596.0 C2240.8,596.5 2224.8,596.8 2215.0,599.0 C2205.2,601.2 2195.7,603.7 2187.0,609.0 C2178.3,614.3 2167.0,627.3 2163.0,631.0L2163.0,631.0 C2165.0,633.8 2171.5,642.5 2175.0,648.0 C2178.5,653.5 2181.8,653.3 2184.0,664.0 C2186.2,674.7 2187.3,704.0 2188.0,712.0L2188.0,712.0 C2190.7,707.8 2199.8,697.8 2204.0,687.0 C2208.2,676.2 2210.2,658.5 2213.0,647.0 C2215.8,635.5 2215.5,626.5 2221.0,618.0 C2226.5,609.5 2241.8,599.7 2246.0,596.0Z" fill="#2b0f2a" stroke="none" stroke-width="0" stroke-linejoin="round" stroke-linecap="round" />
<path d="M1990.0,852.0 C2012.5,820.8 1987.7,839.3 2016.0,836.0 C2044.3,832.7 2111.8,832.8 2160.0,832.0 C2208.2,831.2 2274.7,829.5 2305.0,831.0 C2335.3,832.5 2326.3,824.7 2342.0,841.0 C2357.7,857.3 2379.2,897.8 2399.0,929.0 C2418.8,960.2 2449.0,1003.0 2461.0,1028.0 C2473.0,1053.0 2469.7,1053.7 2471.0,1079.0 C2472.3,1104.3 2469.8,1148.8 2469.0,1180.0 C2468.2,1211.2 2468.3,1234.5 2466.0,1266.0 C2463.7,1297.5 2463.7,1338.0 2455.0,1369.0 C2446.3,1400.0 2423.3,1433.0 2414.0,1452.0 C2404.7,1471.0 2403.2,1466.7 2399.0,1483.0 C2394.8,1499.3 2391.7,1532.0 2389.0,1550.0 C2386.3,1568.0 2385.7,1568.5 2383.0,1591.0 C2380.3,1613.5 2378.2,1665.7 2373.0,1685.0 C2367.8,1704.3 2365.8,1693.7 2352.0,1707.0 C2338.2,1720.3 2307.3,1754.7 2290.0,1765.0 C2272.7,1775.3 2272.2,1769.3 2248.0,1769.0 C2223.8,1768.7 2176.0,1765.3 2145.0,1763.0 C2114.0,1760.7 2079.3,1758.8 2062.0,1755.0 C2044.7,1751.2 2049.3,1748.0 2041.0,1740.0 C2032.7,1732.0 2019.7,1715.3 2012.0,1707.0 C2004.3,1698.7 2000.2,1703.2 1995.0,1690.0 C1989.8,1676.8 1986.2,1659.8 1981.0,1628.0 C1975.8,1596.2 1974.7,1535.2 1964.0,1499.0 C1953.3,1462.8 1929.2,1441.2 1917.0,1411.0 C1904.8,1380.8 1898.7,1359.5 1891.0,1318.0 C1883.3,1276.5 1874.8,1205.2 1871.0,1162.0 C1867.2,1118.8 1866.3,1082.2 1868.0,1059.0 C1869.7,1035.8 1860.7,1057.5 1881.0,1023.0 C1901.3,988.5 1967.5,883.2 1990.0,852.0Z" fill="#603813" stroke="#2b1a0e" stroke-width="6" stroke-linejoin="round" stroke-linecap="round" />
<path d="M1996.5,856.7 C2018.0,826.2 1989.7,846.7 2016.9,843.9 C2044.2,841.2 2112.2,840.8 2160.1,840.0 C2208.1,839.2 2275.3,837.9 2304.6,839.0 C2334.0,840.1 2321.6,830.8 2336.2,846.5 C2350.8,862.3 2372.7,902.5 2392.3,933.3 C2411.8,964.1 2442.0,1007.1 2453.8,1031.5 C2465.6,1055.8 2461.8,1054.7 2463.0,1079.4 C2464.2,1104.1 2461.8,1148.8 2461.0,1179.8 C2460.2,1210.8 2460.3,1234.2 2458.0,1265.4 C2455.7,1296.6 2455.8,1336.3 2447.3,1366.8 C2438.8,1397.4 2416.2,1429.4 2406.8,1448.5 C2397.5,1467.5 2395.5,1464.3 2391.2,1481.0 C2387.0,1497.7 2383.8,1530.7 2381.1,1548.8 C2378.4,1567.0 2377.7,1567.7 2375.1,1590.1 C2372.4,1612.4 2370.0,1664.4 2365.3,1682.9 C2360.5,1701.5 2359.7,1688.7 2346.4,1701.2 C2333.2,1713.8 2302.3,1748.2 2285.9,1758.1 C2269.5,1768.1 2271.5,1761.5 2248.1,1761.0 C2224.7,1760.5 2176.3,1757.3 2145.6,1755.0 C2114.9,1752.7 2080.2,1750.7 2063.7,1747.2 C2047.2,1743.7 2054.2,1741.8 2046.5,1734.2 C2038.9,1726.6 2025.2,1709.4 2017.9,1701.6 C2010.5,1693.7 2007.3,1699.6 2002.4,1687.1 C1997.6,1674.6 1994.0,1658.4 1988.9,1626.7 C1983.8,1595.0 1982.4,1533.2 1971.7,1496.7 C1960.9,1460.3 1936.6,1438.0 1924.4,1408.0 C1912.3,1378.0 1906.4,1357.7 1898.9,1316.5 C1891.3,1275.4 1882.8,1204.1 1879.0,1161.3 C1875.2,1118.5 1874.5,1081.9 1876.0,1059.6 C1877.5,1037.2 1867.8,1060.9 1887.9,1027.1 C1908.0,993.2 1975.0,887.2 1996.5,856.7Z" fill="none" stroke="#2b1a0e" stroke-width="4" stroke-linejoin="round" stroke-linecap="round" />
<path d="M2026.0,857.0 C2029.2,867.5 2034.7,884.7 2045.0,920.0 C2055.3,955.3 2077.3,1042.5 2088.0,1069.0 C2098.7,1095.5 2093.5,1077.3 2109.0,1079.0 C2124.5,1080.7 2164.7,1082.3 2181.0,1079.0 C2197.3,1075.7 2193.2,1097.7 2207.0,1059.0 C2220.8,1020.3 2254.5,882.3 2264.0,847.0" fill="none" stroke="#2b1a0e" stroke-width="5" stroke-linejoin="round" stroke-linecap="round" />
<rect x="2101" y="896" width="88" height="137" rx="20" fill="none" stroke="#2b1a0e" stroke-width="5"/>
<path d="M1946.0,940.0 C1953.3,983.3 1973.2,1103.5 1990.0,1200.0 C2006.8,1296.5 2037.5,1465.8 2047.0,1519.0" fill="none" stroke="#2b1a0e" stroke-width="5" stroke-linejoin="round" stroke-linecap="round" />
<path d="M2047.0,1519.0 C2050.3,1520.8 2048.2,1527.3 2067.0,1530.0 C2085.8,1532.7 2128.0,1535.0 2160.0,1535.0 C2192.0,1535.0 2239.0,1533.5 2259.0,1530.0 C2279.0,1526.5 2276.5,1516.7 2280.0,1514.0" fill="none" stroke="#2b1a0e" stroke-width="5" stroke-linejoin="round" stroke-linecap="round" />
<path d="M2280.0,1514.0 C2288.3,1470.0 2310.7,1344.5 2330.0,1250.0 C2349.3,1155.5 2385.0,997.5 2396.0,947.0" fill="none" stroke="#2b1a0e" stroke-width="5" stroke-linejoin="round" stroke-linecap="round" />
<path d="M2042.0,1740.0 C2044.8,1718.7 2052.2,1636.8 2059.0,1612.0 C2065.8,1587.2 2066.7,1595.2 2083.0,1591.0 C2099.3,1586.8 2128.7,1587.0 2157.0,1587.0 C2185.3,1587.0 2233.3,1587.2 2253.0,1591.0 C2272.7,1594.8 2269.5,1603.0 2275.0,1610.0 C2280.5,1617.0 2281.0,1610.5 2286.0,1633.0 C2291.0,1655.5 2301.8,1726.3 2305.0,1745.0" fill="none" stroke="#2b1a0e" stroke-width="5" stroke-linejoin="round" stroke-linecap="round" />
<ellipse cx="1997" cy="1004" rx="12" ry="16" fill="#4a2c10"/><ellipse cx="1997" cy="1004" rx="9.5" ry="13" fill="url(#rv)"/>
<ellipse cx="2321" cy="1023" rx="12" ry="16" fill="#4a2c10"/><ellipse cx="2321" cy="1023" rx="9.5" ry="13" fill="url(#rv)"/>
<ellipse cx="1997" cy="1462" rx="12" ry="16" fill="#4a2c10"/><ellipse cx="1997" cy="1462" rx="9.5" ry="13" fill="url(#rv)"/>
<ellipse cx="2329" cy="1462" rx="12" ry="16" fill="#4a2c10"/><ellipse cx="2329" cy="1462" rx="9.5" ry="13" fill="url(#rv)"/>
<ellipse cx="2094" cy="1706" rx="12" ry="16" fill="#4a2c10"/><ellipse cx="2094" cy="1706" rx="9.5" ry="13" fill="url(#rv)"/>
<ellipse cx="2244" cy="1714" rx="12" ry="16" fill="#4a2c10"/><ellipse cx="2244" cy="1714" rx="9.5" ry="13" fill="url(#rv)"/>
<rect x="1952" y="1523" width="15" height="31" rx="6" fill="#404041"/>
<path d="M1530.0,1630.0 C1533.3,1631.3 1543.2,1634.7 1550.0,1638.0 C1556.8,1641.3 1563.3,1647.3 1571.0,1650.0 C1578.7,1652.7 1589.7,1651.8 1596.0,1654.0 C1602.3,1656.2 1605.5,1659.0 1609.0,1663.0 C1612.5,1667.0 1615.5,1671.7 1617.0,1678.0 C1618.5,1684.3 1618.3,1693.5 1618.0,1701.0 C1617.7,1708.5 1615.5,1719.3 1615.0,1723.0L1615.0,1723.0 C1611.5,1736.2 1598.7,1786.8 1594.0,1802.0 C1589.3,1817.2 1589.7,1811.0 1587.0,1814.0 C1584.3,1817.0 1582.0,1819.2 1578.0,1820.0 C1574.0,1820.8 1567.3,1820.5 1563.0,1819.0 C1558.7,1817.5 1553.8,1812.3 1552.0,1811.0L1552.0,1811.0 L1499.0,1753.0 L1500.0,1700.0 L1530.0,1630.0" fill="#d91b5c" stroke="#231f20" stroke-width="5" stroke-linejoin="round" stroke-linecap="round" />
<path d="M1560.0,1666.0 C1563.0,1665.3 1572.0,1661.7 1578.0,1662.0 C1584.0,1662.3 1591.3,1663.3 1596.0,1668.0 C1600.7,1672.7 1604.7,1680.5 1606.0,1690.0 C1607.3,1699.5 1607.5,1708.3 1604.0,1725.0 C1600.5,1741.7 1591.0,1775.5 1585.0,1790.0 C1579.0,1804.5 1570.8,1808.3 1568.0,1812.0" fill="none" stroke="#231f20" stroke-width="1.5" stroke-linejoin="round" stroke-linecap="round" />
<path d="M1534.0,1687.0 C1537.0,1683.5 1545.8,1671.8 1552.0,1666.0 C1558.2,1660.2 1567.8,1654.3 1571.0,1652.0" fill="none" stroke="#000" stroke-width="5" stroke-linejoin="round" stroke-linecap="round" />
<path d="M1501.0,1753.0 C1504.0,1746.8 1513.5,1722.5 1519.0,1716.0 C1524.5,1709.5 1529.7,1714.3 1534.0,1714.0 C1538.3,1713.7 1541.0,1713.2 1545.0,1714.0 C1549.0,1714.8 1552.0,1715.5 1558.0,1719.0 C1564.0,1722.5 1577.2,1732.3 1581.0,1735.0L1581.0,1735.0 C1581.2,1736.0 1585.5,1729.8 1582.0,1741.0 C1578.5,1752.2 1564.3,1791.2 1560.0,1802.0 C1555.7,1812.8 1558.2,1805.2 1556.0,1806.0 C1553.8,1806.8 1548.5,1806.8 1547.0,1807.0L1547.0,1807.0 L1501.0,1753.0Z" fill="#27aae1" stroke="#231f20" stroke-width="4" stroke-linejoin="round" stroke-linecap="round" />
<path d="M1520.0,1727.0 C1522.5,1726.3 1530.3,1723.7 1535.0,1723.0 C1539.7,1722.3 1542.2,1720.5 1548.0,1723.0 C1553.8,1725.5 1565.5,1734.3 1570.0,1738.0 C1574.5,1741.7 1577.0,1735.5 1575.0,1745.0 C1573.0,1754.5 1563.0,1786.7 1558.0,1795.0 C1553.0,1803.3 1547.2,1795.0 1545.0,1795.0" fill="none" stroke="#231f20" stroke-width="1.5" stroke-linejoin="round" stroke-linecap="round" />
<circle cx="1514" cy="1748" r="5" fill="none" stroke="#231f20" stroke-width="2.5"/><circle cx="1540" cy="1785" r="5" fill="none" stroke="#231f20" stroke-width="2.5"/>
<path d="M1383.0,1454.0 C1379.5,1452.0 1366.7,1446.2 1362.0,1442.0 C1357.3,1437.8 1356.0,1434.8 1355.0,1429.0 C1354.0,1423.2 1353.5,1415.7 1356.0,1407.0 C1358.5,1398.3 1362.0,1387.0 1370.0,1377.0 C1378.0,1367.0 1389.2,1354.2 1404.0,1347.0 C1418.8,1339.8 1444.8,1335.8 1459.0,1334.0 C1473.2,1332.2 1479.0,1333.0 1489.0,1336.0 C1499.0,1339.0 1509.0,1343.0 1519.0,1352.0 C1529.0,1361.0 1542.5,1378.0 1549.0,1390.0 C1555.5,1402.0 1558.5,1416.2 1558.0,1424.0 C1557.5,1431.8 1552.2,1432.8 1546.0,1437.0 C1539.8,1441.2 1525.2,1447.0 1521.0,1449.0L1521.0,1449.0 L1553.0,1445.0L1553.0,1445.0 C1554.5,1446.2 1560.5,1436.3 1562.0,1452.0 C1563.5,1467.7 1562.7,1522.5 1562.0,1539.0 C1561.3,1555.5 1562.3,1547.8 1558.0,1551.0 C1553.7,1554.2 1539.7,1556.8 1536.0,1558.0L1536.0,1558.0 L1515.0,1565.0 L1558.0,1566.0L1558.0,1566.0 C1558.0,1568.8 1560.3,1566.0 1558.0,1583.0 C1555.7,1600.0 1550.5,1644.8 1544.0,1668.0 C1537.5,1691.2 1528.2,1706.0 1519.0,1722.0 C1509.8,1738.0 1499.0,1755.3 1489.0,1764.0 C1479.0,1772.7 1468.2,1774.0 1459.0,1774.0 C1449.8,1774.0 1442.7,1772.7 1434.0,1764.0 C1425.3,1755.3 1416.0,1738.8 1407.0,1722.0 C1398.0,1705.2 1387.5,1686.2 1380.0,1663.0 C1372.5,1639.8 1365.0,1599.2 1362.0,1583.0 C1359.0,1566.8 1362.0,1568.8 1362.0,1566.0L1362.0,1566.0 L1407.0,1565.0 L1387.0,1558.0L1387.0,1558.0 C1382.0,1557.0 1363.0,1555.2 1357.0,1552.0 C1351.0,1548.8 1352.0,1553.7 1351.0,1539.0 C1350.0,1524.3 1350.0,1478.5 1351.0,1464.0 C1352.0,1449.5 1351.7,1453.7 1357.0,1452.0 C1362.3,1450.3 1378.7,1453.7 1383.0,1454.0Z" fill="#f7941d" stroke="#231f20" stroke-width="6" stroke-linejoin="round" stroke-linecap="round" />
<path d="M1365.0,1440.0 C1365.2,1435.0 1363.5,1419.7 1366.0,1410.0 C1368.5,1400.3 1372.7,1390.3 1380.0,1382.0 C1387.3,1373.7 1396.8,1365.0 1410.0,1360.0 C1423.2,1355.0 1443.2,1352.0 1459.0,1352.0 C1474.8,1352.0 1492.3,1354.5 1505.0,1360.0 C1517.7,1365.5 1527.8,1375.0 1535.0,1385.0 C1542.2,1395.0 1546.3,1411.3 1548.0,1420.0 C1549.7,1428.7 1545.5,1434.2 1545.0,1437.0" fill="none" stroke="#231f20" stroke-width="5" stroke-linejoin="round" stroke-linecap="round" />
<path d="M1362.0,1460.0 C1362.2,1466.7 1362.3,1485.0 1363.0,1500.0 C1363.7,1515.0 1365.5,1541.7 1366.0,1550.0" fill="none" stroke="#231f20" stroke-width="4.5" stroke-linejoin="round" stroke-linecap="round" />
<path d="M1552.0,1460.0 C1551.7,1466.7 1550.7,1485.0 1550.0,1500.0 C1549.3,1515.0 1548.3,1541.7 1548.0,1550.0" fill="none" stroke="#231f20" stroke-width="4.5" stroke-linejoin="round" stroke-linecap="round" />
<path d="M1372.0,1575.0 C1373.7,1585.8 1376.5,1618.3 1382.0,1640.0 C1387.5,1661.7 1397.0,1687.5 1405.0,1705.0 C1413.0,1722.5 1421.0,1736.3 1430.0,1745.0 C1439.0,1753.7 1449.3,1757.0 1459.0,1757.0 C1468.7,1757.0 1478.7,1753.7 1488.0,1745.0 C1497.3,1736.3 1507.2,1722.5 1515.0,1705.0 C1522.8,1687.5 1529.7,1661.7 1535.0,1640.0 C1540.3,1618.3 1545.0,1585.8 1547.0,1575.0" fill="none" stroke="#231f20" stroke-width="5" stroke-linejoin="round" stroke-linecap="round" />
<path d="M1388.0,1387.0 C1391.7,1395.8 1402.7,1421.5 1410.0,1440.0 C1417.3,1458.5 1423.8,1483.8 1432.0,1498.0 C1440.2,1512.2 1450.0,1525.0 1459.0,1525.0 C1468.0,1525.0 1477.8,1512.2 1486.0,1498.0 C1494.2,1483.8 1501.3,1458.0 1508.0,1440.0 C1514.7,1422.0 1523.0,1398.3 1526.0,1390.0" fill="none" stroke="#231f20" stroke-width="5" stroke-linejoin="round" stroke-linecap="round" />
<path d="M1391.0,1399.0 C1402.3,1394.2 1436.7,1370.8 1459.0,1370.0 C1481.3,1369.2 1514.0,1390.0 1525.0,1394.0" fill="none" stroke="#231f20" stroke-width="5" stroke-linejoin="round" stroke-linecap="round" />
<path d="M1404.0,1427.0 C1413.2,1424.0 1441.2,1409.5 1459.0,1409.0 C1476.8,1408.5 1502.3,1421.5 1511.0,1424.0" fill="none" stroke="#231f20" stroke-width="5" stroke-linejoin="round" stroke-linecap="round" />
<path d="M1412.0,1449.0 C1419.8,1446.7 1443.7,1435.0 1459.0,1435.0 C1474.3,1435.0 1496.5,1446.7 1504.0,1449.0" fill="none" stroke="#231f20" stroke-width="5" stroke-linejoin="round" stroke-linecap="round" />
<path d="M1418.0,1469.0 C1424.8,1467.2 1446.0,1458.0 1459.0,1458.0 C1472.0,1458.0 1489.8,1467.2 1496.0,1469.0" fill="none" stroke="#231f20" stroke-width="5" stroke-linejoin="round" stroke-linecap="round" />
<path d="M1426.0,1486.0 C1431.5,1484.3 1448.3,1476.2 1459.0,1476.0 C1469.7,1475.8 1484.8,1483.5 1490.0,1485.0" fill="none" stroke="#231f20" stroke-width="5" stroke-linejoin="round" stroke-linecap="round" />
<path d="M1407.0,1692.0 C1409.5,1683.3 1417.0,1656.7 1422.0,1640.0 C1427.0,1623.3 1430.8,1602.3 1437.0,1592.0 C1443.2,1581.7 1451.2,1578.0 1459.0,1578.0 C1466.8,1578.0 1477.2,1582.5 1484.0,1592.0 C1490.8,1601.5 1494.7,1621.2 1500.0,1635.0 C1505.3,1648.8 1513.3,1668.3 1516.0,1675.0" fill="none" stroke="#231f20" stroke-width="5" stroke-linejoin="round" stroke-linecap="round" />
<path d="M1437.0,1596.0 C1440.7,1596.8 1451.7,1601.3 1459.0,1601.0 C1466.3,1600.7 1477.3,1595.2 1481.0,1594.0" fill="none" stroke="#231f20" stroke-width="5" stroke-linejoin="round" stroke-linecap="round" />
<path d="M1433.0,1613.0 C1437.3,1613.7 1450.2,1617.7 1459.0,1617.0 C1467.8,1616.3 1481.5,1610.3 1486.0,1609.0" fill="none" stroke="#231f20" stroke-width="5" stroke-linejoin="round" stroke-linecap="round" />
<path d="M1412.0,1673.0 C1419.8,1674.2 1442.0,1680.5 1459.0,1680.0 C1476.0,1679.5 1504.8,1671.7 1514.0,1670.0" fill="none" stroke="#231f20" stroke-width="5" stroke-linejoin="round" stroke-linecap="round" />
<path d="M1418.0,1715.0 C1424.8,1717.0 1444.3,1727.5 1459.0,1727.0 C1473.7,1726.5 1498.2,1714.5 1506.0,1712.0" fill="none" stroke="#231f20" stroke-width="5" stroke-linejoin="round" stroke-linecap="round" />
<circle cx="1419" cy="1432" r="6" fill="none" stroke="#231f20" stroke-width="4"/>
<circle cx="1498" cy="1427" r="6" fill="none" stroke="#231f20" stroke-width="4"/>
<circle cx="1429" cy="1521" r="6" fill="none" stroke="#231f20" stroke-width="4"/>
<circle cx="1491" cy="1519" r="6" fill="none" stroke="#231f20" stroke-width="4"/>
<circle cx="1429" cy="1587" r="6" fill="none" stroke="#231f20" stroke-width="4"/>
<circle cx="1498" cy="1587" r="6" fill="none" stroke="#231f20" stroke-width="4"/>
<circle cx="1439" cy="1629" r="6" fill="none" stroke="#231f20" stroke-width="4"/>
<circle cx="1484" cy="1628" r="6" fill="none" stroke="#231f20" stroke-width="4"/>
<path d="M2899.0,1610.0 C2901.7,1604.2 2909.5,1602.2 2915.0,1600.0 C2920.5,1597.8 2925.0,1599.5 2932.0,1597.0 C2939.0,1594.5 2941.8,1597.3 2957.0,1585.0 C2972.2,1572.7 2997.5,1537.8 3023.0,1523.0 C3048.5,1508.2 3092.8,1498.8 3110.0,1496.0 C3127.2,1493.2 3121.2,1493.2 3126.0,1506.0 C3130.8,1518.8 3138.2,1557.8 3139.0,1573.0 C3139.8,1588.2 3140.0,1584.0 3131.0,1597.0 C3122.0,1610.0 3094.0,1639.2 3085.0,1651.0 C3076.0,1662.8 3079.0,1648.0 3077.0,1668.0 C3075.0,1688.0 3075.8,1751.7 3073.0,1771.0 C3070.2,1790.3 3069.7,1781.8 3060.0,1784.0 C3050.3,1786.2 3030.8,1788.8 3015.0,1784.0 C2999.2,1779.2 2981.7,1772.3 2965.0,1755.0 C2948.3,1737.7 2926.0,1700.0 2915.0,1680.0 C2904.0,1660.0 2901.7,1646.7 2899.0,1635.0 C2896.3,1623.3 2896.3,1615.8 2899.0,1610.0Z" fill="#d91b5c" stroke="#231f20" stroke-width="6" stroke-linejoin="round" stroke-linecap="round" />
<path d="M2905.4,1612.9 C2907.3,1608.4 2912.7,1608.1 2917.6,1606.5 C2922.4,1605.0 2927.0,1606.3 2934.4,1603.6 C2941.7,1600.9 2946.1,1602.9 2961.4,1590.4 C2976.8,1578.0 3001.6,1543.6 3026.5,1529.1 C3051.5,1514.5 3095.7,1506.3 3111.1,1502.9 C3126.6,1499.5 3116.0,1496.7 3119.4,1508.5 C3122.9,1520.2 3131.0,1559.3 3132.0,1573.4 C3133.0,1587.5 3134.0,1580.8 3125.2,1593.0 C3116.5,1605.2 3088.6,1634.4 3079.4,1646.8 C3070.2,1659.1 3072.3,1646.8 3070.0,1667.3 C3067.8,1687.8 3068.0,1751.7 3066.1,1770.0 C3064.1,1788.3 3066.6,1775.9 3058.5,1777.2 C3050.3,1778.4 3031.8,1781.8 3017.0,1777.3 C3002.3,1772.8 2986.0,1766.9 2970.0,1750.1 C2954.1,1733.4 2931.8,1696.1 2921.1,1676.6 C2910.4,1657.2 2908.5,1644.1 2905.8,1633.4 C2903.2,1622.8 2903.4,1617.4 2905.4,1612.9Z" fill="none" stroke="#231f20" stroke-width="1.5" stroke-linejoin="round" stroke-linecap="round" />
<path d="M2955.0,1614.0 C2958.0,1607.2 2961.7,1596.0 2973.0,1585.0 C2984.3,1574.0 3001.5,1559.7 3023.0,1548.0 C3044.5,1536.3 3086.8,1517.8 3102.0,1515.0 C3117.2,1512.2 3110.7,1519.3 3114.0,1531.0 C3117.3,1542.7 3123.3,1571.8 3122.0,1585.0 C3120.7,1598.2 3115.0,1600.3 3106.0,1610.0 C3097.0,1619.7 3086.0,1638.2 3068.0,1643.0 C3050.0,1647.8 3016.8,1641.8 2998.0,1639.0 C2979.2,1636.2 2962.2,1630.2 2955.0,1626.0 C2947.8,1621.8 2952.0,1620.8 2955.0,1614.0Z" fill="#27aae1" stroke="#231f20" stroke-width="3" stroke-linejoin="round" stroke-linecap="round" />
<path d="M2962.3,1617.2 C2965.6,1612.5 2967.8,1601.1 2978.6,1590.7 C2989.3,1580.4 3006.0,1566.3 3026.8,1555.0 C3047.6,1543.7 3090.2,1526.5 3103.5,1522.9 C3116.7,1519.2 3104.5,1523.0 3106.3,1533.2 C3108.1,1543.4 3115.1,1572.3 3114.0,1584.2 C3113.0,1596.1 3108.2,1596.0 3100.1,1604.5 C3092.1,1613.1 3082.8,1630.9 3065.9,1635.3 C3049.1,1639.7 3017.0,1633.8 2999.2,1631.1 C2981.4,1628.4 2965.2,1621.4 2959.0,1619.1 C2952.9,1616.8 2959.1,1621.9 2962.3,1617.2Z" fill="none" stroke="#231f20" stroke-width="1.5" stroke-linejoin="round" stroke-linecap="round" />
<path d="M2930.0,1676.0 C2933.0,1670.3 2940.8,1659.2 2948.0,1655.0 C2955.2,1650.8 2957.8,1648.8 2973.0,1651.0 C2988.2,1653.2 3025.5,1663.2 3039.0,1668.0 C3052.5,1672.8 3053.2,1665.5 3054.0,1680.0 C3054.8,1694.5 3047.2,1740.5 3044.0,1755.0 C3040.8,1769.5 3042.0,1765.0 3035.0,1767.0 C3028.0,1769.0 3015.0,1773.2 3002.0,1767.0 C2989.0,1760.8 2969.0,1743.0 2957.0,1730.0 C2945.0,1717.0 2934.5,1698.0 2930.0,1689.0 C2925.5,1680.0 2927.0,1681.7 2930.0,1676.0Z" fill="#27aae1" stroke="#231f20" stroke-width="3" stroke-linejoin="round" stroke-linecap="round" />
<path d="M2937.1,1679.7 C2939.5,1675.8 2946.2,1665.4 2952.0,1661.9 C2957.8,1658.4 2957.8,1656.7 2971.9,1658.9 C2985.9,1661.2 3023.9,1671.9 3036.3,1675.5 C3048.7,1679.1 3046.0,1667.5 3046.0,1680.5 C3046.0,1693.4 3038.4,1740.2 3036.2,1753.3 C3034.0,1766.4 3037.9,1758.2 3032.8,1759.3 C3027.7,1760.4 3017.1,1765.6 3005.4,1759.8 C2993.8,1754.0 2974.3,1737.0 2962.9,1724.6 C2951.5,1712.2 2941.5,1692.9 2937.2,1685.4 C2932.9,1678.0 2934.6,1683.7 2937.1,1679.7Z" fill="none" stroke="#231f20" stroke-width="1.5" stroke-linejoin="round" stroke-linecap="round" />
<path d="M2915.0,1600.0 C2922.0,1604.3 2939.5,1618.0 2957.0,1626.0 C2974.5,1634.0 3000.7,1642.3 3020.0,1648.0 C3039.3,1653.7 3063.5,1656.7 3073.0,1660.0 C3082.5,1663.3 3076.3,1666.7 3077.0,1668.0" fill="none" stroke="#231f20" stroke-width="6" stroke-linejoin="round" stroke-linecap="round" />
<circle cx="3079" cy="1560" r="7" fill="none" stroke="#000" stroke-width="5"/><circle cx="3015" cy="1604" r="7" fill="none" stroke="#000" stroke-width="5"/>
<circle cx="2978" cy="1693" r="5" fill="none" stroke="#231f20" stroke-width="3"/><circle cx="3007" cy="1731" r="5" fill="none" stroke="#231f20" stroke-width="3"/>
<text x="3243" y="544" textLength="785" lengthAdjust="spacingAndGlyphs" font-size="96" font-weight="normal" fill="#000">PU Soft Hump (GP)</text>
<text x="3504" y="1040" textLength="666" lengthAdjust="spacingAndGlyphs" font-size="96" font-weight="normal" fill="#000">Perforated front</text>
<text x="3537" y="1136" textLength="591" lengthAdjust="spacingAndGlyphs" font-size="96" font-weight="normal" fill="#000">leather panels</text>
<text x="620" y="1008" textLength="606" lengthAdjust="spacingAndGlyphs" font-size="96" font-weight="normal" fill="#000">Back Protector</text>
<text x="550" y="1591" textLength="560" lengthAdjust="spacingAndGlyphs" font-size="96" font-weight="bold" fill="#000">CE Approved</text>
<text x="476" y="1704" textLength="705" lengthAdjust="spacingAndGlyphs" font-size="96" font-weight="normal" fill="#000">Elbow Protectors</text>
<text x="689" y="2178" font-size="96" fill="#000" textLength="672" lengthAdjust="spacingAndGlyphs"><tspan font-weight="bold">Stretch</tspan> material</text>
<text x="579" y="2284" textLength="873" lengthAdjust="spacingAndGlyphs" font-size="96" font-weight="normal" fill="#000">for better movement</text>
<text x="3584" y="1703" textLength="471" lengthAdjust="spacingAndGlyphs" font-size="96" font-weight="normal" fill="#000">Removable</text>
<text x="3545" y="1811" textLength="555" lengthAdjust="spacingAndGlyphs" font-size="96" font-weight="normal" fill="#000">Elbow Sliders</text>
<path d="M2194.0,787.0 L2890.0,578.0 L4165.0,578.0" stroke="#231f20" stroke-width="3.5" fill="none"/>
<path d="M2880.0,1169.0 L4244.0,1169.0" stroke="#231f20" stroke-width="3.5" fill="none"/>
<path d="M506.0,1029.0 L1434.0,1029.0 L2132.0,1377.0" stroke="#231f20" stroke-width="3.5" fill="none"/>
<path d="M450.0,1735.0 L1210.0,1735.0 L1432.0,1516.0" stroke="#231f20" stroke-width="3.5" fill="none"/>
<path d="M488.0,2309.0 L1550.0,2309.0 L2009.0,1823.0" stroke="#231f20" stroke-width="3.5" fill="none"/>
<path d="M4209.0,1831.0 L3249.0,1831.0 L2957.0,1625.0" stroke="#231f20" stroke-width="3.5" fill="none"/>
</svg></body></html>
